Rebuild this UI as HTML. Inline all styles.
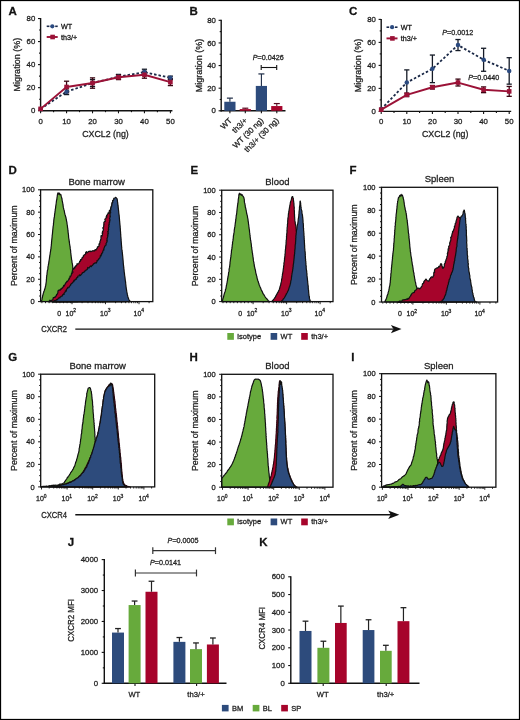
<!DOCTYPE html>
<html><head><meta charset="utf-8"><title>Figure</title>
<style>svg text{stroke:#1c1c1c;stroke-width:0.28px;paint-order:stroke}html,body{margin:0;padding:0;background:#fff;width:520px;height:720px;overflow:hidden;font-family:"Liberation Sans",sans-serif}svg{display:block;filter:blur(0.35px)}</style>
</head><body>
<svg width="520" height="720" viewBox="0 0 520 720" font-family='"Liberation Sans", sans-serif'><rect x="0" y="0" width="520" height="720" fill="#fff"/>
<text x="8.5" y="15.3" font-size="11.5" text-anchor="start" font-weight="bold" fill="#111">A</text>
<line x1="40.6" y1="18.04" x2="40.6" y2="111.3" stroke="#111" stroke-width="1.4"/>
<line x1="40" y1="110.7" x2="172.4" y2="110.7" stroke="#111" stroke-width="1.4"/>
<line x1="38" y1="110.7" x2="40.6" y2="110.7" stroke="#111" stroke-width="1.1"/>
<text x="35.3" y="113.3" font-size="7.8" text-anchor="end" fill="#222">0</text>
<line x1="39.1" y1="99.18" x2="40.6" y2="99.18" stroke="#111" stroke-width="1.1"/>
<line x1="38" y1="87.66" x2="40.6" y2="87.66" stroke="#111" stroke-width="1.1"/>
<text x="35.3" y="90.26" font-size="7.8" text-anchor="end" fill="#222">20</text>
<line x1="39.1" y1="76.14" x2="40.6" y2="76.14" stroke="#111" stroke-width="1.1"/>
<line x1="38" y1="64.62" x2="40.6" y2="64.62" stroke="#111" stroke-width="1.1"/>
<text x="35.3" y="67.22" font-size="7.8" text-anchor="end" fill="#222">40</text>
<line x1="39.1" y1="53.1" x2="40.6" y2="53.1" stroke="#111" stroke-width="1.1"/>
<line x1="38" y1="41.58" x2="40.6" y2="41.58" stroke="#111" stroke-width="1.1"/>
<text x="35.3" y="44.18" font-size="7.8" text-anchor="end" fill="#222">60</text>
<line x1="39.1" y1="30.06" x2="40.6" y2="30.06" stroke="#111" stroke-width="1.1"/>
<line x1="38" y1="18.54" x2="40.6" y2="18.54" stroke="#111" stroke-width="1.1"/>
<text x="35.3" y="21.14" font-size="7.8" text-anchor="end" fill="#222">80</text>
<line x1="40.6" y1="110.7" x2="40.6" y2="113.3" stroke="#111" stroke-width="1.1"/>
<text x="40.6" y="123.7" font-size="7.8" text-anchor="middle" fill="#222">0</text>
<line x1="53.58" y1="110.7" x2="53.58" y2="112.2" stroke="#111" stroke-width="1.1"/>
<line x1="66.56" y1="110.7" x2="66.56" y2="113.3" stroke="#111" stroke-width="1.1"/>
<text x="66.56" y="123.7" font-size="7.8" text-anchor="middle" fill="#222">10</text>
<line x1="79.54" y1="110.7" x2="79.54" y2="112.2" stroke="#111" stroke-width="1.1"/>
<line x1="92.52" y1="110.7" x2="92.52" y2="113.3" stroke="#111" stroke-width="1.1"/>
<text x="92.52" y="123.7" font-size="7.8" text-anchor="middle" fill="#222">20</text>
<line x1="105.5" y1="110.7" x2="105.5" y2="112.2" stroke="#111" stroke-width="1.1"/>
<line x1="118.48" y1="110.7" x2="118.48" y2="113.3" stroke="#111" stroke-width="1.1"/>
<text x="118.48" y="123.7" font-size="7.8" text-anchor="middle" fill="#222">30</text>
<line x1="131.46" y1="110.7" x2="131.46" y2="112.2" stroke="#111" stroke-width="1.1"/>
<line x1="144.44" y1="110.7" x2="144.44" y2="113.3" stroke="#111" stroke-width="1.1"/>
<text x="144.44" y="123.7" font-size="7.8" text-anchor="middle" fill="#222">40</text>
<line x1="157.42" y1="110.7" x2="157.42" y2="112.2" stroke="#111" stroke-width="1.1"/>
<line x1="170.4" y1="110.7" x2="170.4" y2="113.3" stroke="#111" stroke-width="1.1"/>
<text x="170.4" y="123.7" font-size="7.8" text-anchor="middle" fill="#222">50</text>
<text x="105.5" y="136.7" font-size="8.8" text-anchor="middle" fill="#222">CXCL2 (ng)</text>
<text x="20.1" y="64.62" font-size="9" text-anchor="middle" fill="#222" transform="rotate(-90 20.1 64.62)">Migration (%)</text>
<line x1="66.56" y1="88.81" x2="66.56" y2="94.57" stroke="#141a26" stroke-width="1.3"/>
<line x1="63.96" y1="88.81" x2="69.16" y2="88.81" stroke="#141a26" stroke-width="1.3"/>
<line x1="63.96" y1="94.57" x2="69.16" y2="94.57" stroke="#141a26" stroke-width="1.3"/>
<line x1="92.52" y1="79.6" x2="92.52" y2="86.51" stroke="#141a26" stroke-width="1.3"/>
<line x1="89.92" y1="79.6" x2="95.12" y2="79.6" stroke="#141a26" stroke-width="1.3"/>
<line x1="89.92" y1="86.51" x2="95.12" y2="86.51" stroke="#141a26" stroke-width="1.3"/>
<line x1="118.48" y1="74.41" x2="118.48" y2="79.02" stroke="#141a26" stroke-width="1.3"/>
<line x1="115.88" y1="74.41" x2="121.08" y2="74.41" stroke="#141a26" stroke-width="1.3"/>
<line x1="115.88" y1="79.02" x2="121.08" y2="79.02" stroke="#141a26" stroke-width="1.3"/>
<line x1="144.44" y1="69.23" x2="144.44" y2="74.99" stroke="#141a26" stroke-width="1.3"/>
<line x1="141.84" y1="69.23" x2="147.04" y2="69.23" stroke="#141a26" stroke-width="1.3"/>
<line x1="141.84" y1="74.99" x2="147.04" y2="74.99" stroke="#141a26" stroke-width="1.3"/>
<line x1="170.4" y1="76.14" x2="170.4" y2="79.6" stroke="#141a26" stroke-width="1.3"/>
<line x1="167.8" y1="76.14" x2="173" y2="76.14" stroke="#141a26" stroke-width="1.3"/>
<line x1="167.8" y1="79.6" x2="173" y2="79.6" stroke="#141a26" stroke-width="1.3"/>
<line x1="66.56" y1="81.21" x2="66.56" y2="92.73" stroke="#3a0512" stroke-width="1.3"/>
<line x1="63.96" y1="81.21" x2="69.16" y2="81.21" stroke="#3a0512" stroke-width="1.3"/>
<line x1="63.96" y1="92.73" x2="69.16" y2="92.73" stroke="#3a0512" stroke-width="1.3"/>
<line x1="92.52" y1="77.87" x2="92.52" y2="88.24" stroke="#3a0512" stroke-width="1.3"/>
<line x1="89.92" y1="77.87" x2="95.12" y2="77.87" stroke="#3a0512" stroke-width="1.3"/>
<line x1="89.92" y1="88.24" x2="95.12" y2="88.24" stroke="#3a0512" stroke-width="1.3"/>
<line x1="118.48" y1="74.99" x2="118.48" y2="79.6" stroke="#3a0512" stroke-width="1.3"/>
<line x1="115.88" y1="74.99" x2="121.08" y2="74.99" stroke="#3a0512" stroke-width="1.3"/>
<line x1="115.88" y1="79.6" x2="121.08" y2="79.6" stroke="#3a0512" stroke-width="1.3"/>
<line x1="144.44" y1="71.3" x2="144.44" y2="78.21" stroke="#3a0512" stroke-width="1.3"/>
<line x1="141.84" y1="71.3" x2="147.04" y2="71.3" stroke="#3a0512" stroke-width="1.3"/>
<line x1="141.84" y1="78.21" x2="147.04" y2="78.21" stroke="#3a0512" stroke-width="1.3"/>
<line x1="170.4" y1="78.67" x2="170.4" y2="85.59" stroke="#3a0512" stroke-width="1.3"/>
<line x1="167.8" y1="78.67" x2="173" y2="78.67" stroke="#3a0512" stroke-width="1.3"/>
<line x1="167.8" y1="85.59" x2="173" y2="85.59" stroke="#3a0512" stroke-width="1.3"/>
<path d="M40.6,108.97 L66.56,91.69 L92.52,83.05 L118.48,76.72 L144.44,72.11 L170.4,77.87" fill="none" stroke="#1b2947" stroke-width="1.8" stroke-linejoin="round" stroke-dasharray="2.5,2.0"/>
<circle cx="40.6" cy="108.97" r="2.25" fill="#2b4a80"/>
<circle cx="66.56" cy="91.69" r="2.25" fill="#2b4a80"/>
<circle cx="92.52" cy="83.05" r="2.25" fill="#2b4a80"/>
<circle cx="118.48" cy="76.72" r="2.25" fill="#2b4a80"/>
<circle cx="144.44" cy="72.11" r="2.25" fill="#2b4a80"/>
<circle cx="170.4" cy="77.87" r="2.25" fill="#2b4a80"/>
<path d="M40.6,108.86 L66.56,86.97 L92.52,83.05 L118.48,77.29 L144.44,74.76 L170.4,82.13" fill="none" stroke="#9b1237" stroke-width="1.9" stroke-linejoin="round"/>
<rect x="38.3" y="106.56" width="4.6" height="4.6" fill="#9b1237"/>
<rect x="64.26" y="84.67" width="4.6" height="4.6" fill="#9b1237"/>
<rect x="90.22" y="80.75" width="4.6" height="4.6" fill="#9b1237"/>
<rect x="116.18" y="74.99" width="4.6" height="4.6" fill="#9b1237"/>
<rect x="142.14" y="72.46" width="4.6" height="4.6" fill="#9b1237"/>
<rect x="168.1" y="79.83" width="4.6" height="4.6" fill="#9b1237"/>
<line x1="46.7" y1="26.3" x2="49.4" y2="26.3" stroke="#1b2947" stroke-width="1.6"/>
<line x1="55.2" y1="26.3" x2="57.7" y2="26.3" stroke="#1b2947" stroke-width="1.6"/>
<circle cx="52.3" cy="26.3" r="2.1" fill="#2b4a80"/>
<text x="61" y="28.8" font-size="7.2" text-anchor="start" fill="#111">WT</text>
<line x1="46.7" y1="37" x2="57.7" y2="37" stroke="#9b1237" stroke-width="1.9"/>
<rect x="50.3" y="34.7" width="4.6" height="4.6" fill="#9b1237"/>
<text x="61" y="39.5" font-size="7.2" text-anchor="start" fill="#111">th3/+</text>
<text x="349" y="15.3" font-size="11.5" text-anchor="start" font-weight="bold" fill="#111">C</text>
<line x1="381.2" y1="18.9" x2="381.2" y2="112" stroke="#111" stroke-width="1.4"/>
<line x1="380.6" y1="111.4" x2="511.2" y2="111.4" stroke="#111" stroke-width="1.4"/>
<line x1="378.6" y1="111.4" x2="381.2" y2="111.4" stroke="#111" stroke-width="1.1"/>
<text x="375.9" y="114" font-size="7.8" text-anchor="end" fill="#222">0</text>
<line x1="379.7" y1="99.9" x2="381.2" y2="99.9" stroke="#111" stroke-width="1.1"/>
<line x1="378.6" y1="88.4" x2="381.2" y2="88.4" stroke="#111" stroke-width="1.1"/>
<text x="375.9" y="91" font-size="7.8" text-anchor="end" fill="#222">20</text>
<line x1="379.7" y1="76.9" x2="381.2" y2="76.9" stroke="#111" stroke-width="1.1"/>
<line x1="378.6" y1="65.4" x2="381.2" y2="65.4" stroke="#111" stroke-width="1.1"/>
<text x="375.9" y="68" font-size="7.8" text-anchor="end" fill="#222">40</text>
<line x1="379.7" y1="53.9" x2="381.2" y2="53.9" stroke="#111" stroke-width="1.1"/>
<line x1="378.6" y1="42.4" x2="381.2" y2="42.4" stroke="#111" stroke-width="1.1"/>
<text x="375.9" y="45" font-size="7.8" text-anchor="end" fill="#222">60</text>
<line x1="379.7" y1="30.9" x2="381.2" y2="30.9" stroke="#111" stroke-width="1.1"/>
<line x1="378.6" y1="19.4" x2="381.2" y2="19.4" stroke="#111" stroke-width="1.1"/>
<text x="375.9" y="22" font-size="7.8" text-anchor="end" fill="#222">80</text>
<line x1="381.2" y1="111.4" x2="381.2" y2="114" stroke="#111" stroke-width="1.1"/>
<text x="381.2" y="124.4" font-size="7.8" text-anchor="middle" fill="#222">0</text>
<line x1="394" y1="111.4" x2="394" y2="112.9" stroke="#111" stroke-width="1.1"/>
<line x1="406.8" y1="111.4" x2="406.8" y2="114" stroke="#111" stroke-width="1.1"/>
<text x="406.8" y="124.4" font-size="7.8" text-anchor="middle" fill="#222">10</text>
<line x1="419.6" y1="111.4" x2="419.6" y2="112.9" stroke="#111" stroke-width="1.1"/>
<line x1="432.4" y1="111.4" x2="432.4" y2="114" stroke="#111" stroke-width="1.1"/>
<text x="432.4" y="124.4" font-size="7.8" text-anchor="middle" fill="#222">20</text>
<line x1="445.2" y1="111.4" x2="445.2" y2="112.9" stroke="#111" stroke-width="1.1"/>
<line x1="458" y1="111.4" x2="458" y2="114" stroke="#111" stroke-width="1.1"/>
<text x="458" y="124.4" font-size="7.8" text-anchor="middle" fill="#222">30</text>
<line x1="470.8" y1="111.4" x2="470.8" y2="112.9" stroke="#111" stroke-width="1.1"/>
<line x1="483.6" y1="111.4" x2="483.6" y2="114" stroke="#111" stroke-width="1.1"/>
<text x="483.6" y="124.4" font-size="7.8" text-anchor="middle" fill="#222">40</text>
<line x1="496.4" y1="111.4" x2="496.4" y2="112.9" stroke="#111" stroke-width="1.1"/>
<line x1="509.2" y1="111.4" x2="509.2" y2="114" stroke="#111" stroke-width="1.1"/>
<text x="509.2" y="124.4" font-size="7.8" text-anchor="middle" fill="#222">50</text>
<text x="445.2" y="137.4" font-size="8.8" text-anchor="middle" fill="#222">CXCL2 (ng)</text>
<text x="360.7" y="65.4" font-size="9" text-anchor="middle" fill="#222" transform="rotate(-90 360.7 65.4)">Migration (%)</text>
<line x1="406.8" y1="69.89" x2="406.8" y2="95.19" stroke="#141a26" stroke-width="1.3"/>
<line x1="404.2" y1="69.89" x2="409.4" y2="69.89" stroke="#141a26" stroke-width="1.3"/>
<line x1="404.2" y1="95.19" x2="409.4" y2="95.19" stroke="#141a26" stroke-width="1.3"/>
<line x1="432.4" y1="55.05" x2="432.4" y2="82.65" stroke="#141a26" stroke-width="1.3"/>
<line x1="429.8" y1="55.05" x2="435" y2="55.05" stroke="#141a26" stroke-width="1.3"/>
<line x1="429.8" y1="82.65" x2="435" y2="82.65" stroke="#141a26" stroke-width="1.3"/>
<line x1="458" y1="39.53" x2="458" y2="50.57" stroke="#141a26" stroke-width="1.3"/>
<line x1="455.4" y1="39.53" x2="460.6" y2="39.53" stroke="#141a26" stroke-width="1.3"/>
<line x1="455.4" y1="50.57" x2="460.6" y2="50.57" stroke="#141a26" stroke-width="1.3"/>
<line x1="483.6" y1="48.27" x2="483.6" y2="71.27" stroke="#141a26" stroke-width="1.3"/>
<line x1="481" y1="48.27" x2="486.2" y2="48.27" stroke="#141a26" stroke-width="1.3"/>
<line x1="481" y1="71.27" x2="486.2" y2="71.27" stroke="#141a26" stroke-width="1.3"/>
<line x1="509.2" y1="57.7" x2="509.2" y2="84.15" stroke="#141a26" stroke-width="1.3"/>
<line x1="506.6" y1="57.7" x2="511.8" y2="57.7" stroke="#141a26" stroke-width="1.3"/>
<line x1="506.6" y1="84.15" x2="511.8" y2="84.15" stroke="#141a26" stroke-width="1.3"/>
<line x1="406.8" y1="93.12" x2="406.8" y2="96.57" stroke="#3a0512" stroke-width="1.3"/>
<line x1="404.2" y1="93.12" x2="409.4" y2="93.12" stroke="#3a0512" stroke-width="1.3"/>
<line x1="404.2" y1="96.57" x2="409.4" y2="96.57" stroke="#3a0512" stroke-width="1.3"/>
<line x1="432.4" y1="85.53" x2="432.4" y2="88.98" stroke="#3a0512" stroke-width="1.3"/>
<line x1="429.8" y1="85.53" x2="435" y2="85.53" stroke="#3a0512" stroke-width="1.3"/>
<line x1="429.8" y1="88.98" x2="435" y2="88.98" stroke="#3a0512" stroke-width="1.3"/>
<line x1="458" y1="79.09" x2="458" y2="85.99" stroke="#3a0512" stroke-width="1.3"/>
<line x1="455.4" y1="79.09" x2="460.6" y2="79.09" stroke="#3a0512" stroke-width="1.3"/>
<line x1="455.4" y1="85.99" x2="460.6" y2="85.99" stroke="#3a0512" stroke-width="1.3"/>
<line x1="483.6" y1="86.91" x2="483.6" y2="92.66" stroke="#3a0512" stroke-width="1.3"/>
<line x1="481" y1="86.91" x2="486.2" y2="86.91" stroke="#3a0512" stroke-width="1.3"/>
<line x1="481" y1="92.66" x2="486.2" y2="92.66" stroke="#3a0512" stroke-width="1.3"/>
<line x1="509.2" y1="86.45" x2="509.2" y2="96.34" stroke="#3a0512" stroke-width="1.3"/>
<line x1="506.6" y1="86.45" x2="511.8" y2="86.45" stroke="#3a0512" stroke-width="1.3"/>
<line x1="506.6" y1="96.34" x2="511.8" y2="96.34" stroke="#3a0512" stroke-width="1.3"/>
<path d="M381.2,109.1 L406.8,82.54 L432.4,68.85 L458,45.05 L483.6,59.77 L509.2,70.92" fill="none" stroke="#1b2947" stroke-width="1.8" stroke-linejoin="round" stroke-dasharray="2.5,2.0"/>
<circle cx="381.2" cy="109.1" r="2.25" fill="#2b4a80"/>
<circle cx="406.8" cy="82.54" r="2.25" fill="#2b4a80"/>
<circle cx="432.4" cy="68.85" r="2.25" fill="#2b4a80"/>
<circle cx="458" cy="45.05" r="2.25" fill="#2b4a80"/>
<circle cx="483.6" cy="59.77" r="2.25" fill="#2b4a80"/>
<circle cx="509.2" cy="70.92" r="2.25" fill="#2b4a80"/>
<path d="M381.2,109.68 L406.8,94.84 L432.4,87.25 L458,82.54 L483.6,89.78 L509.2,91.39" fill="none" stroke="#9b1237" stroke-width="1.9" stroke-linejoin="round"/>
<rect x="378.9" y="107.38" width="4.6" height="4.6" fill="#9b1237"/>
<rect x="404.5" y="92.54" width="4.6" height="4.6" fill="#9b1237"/>
<rect x="430.1" y="84.95" width="4.6" height="4.6" fill="#9b1237"/>
<rect x="455.7" y="80.24" width="4.6" height="4.6" fill="#9b1237"/>
<rect x="481.3" y="87.48" width="4.6" height="4.6" fill="#9b1237"/>
<rect x="506.9" y="89.09" width="4.6" height="4.6" fill="#9b1237"/>
<line x1="386.5" y1="27.2" x2="389.2" y2="27.2" stroke="#1b2947" stroke-width="1.6"/>
<line x1="395" y1="27.2" x2="397.5" y2="27.2" stroke="#1b2947" stroke-width="1.6"/>
<circle cx="392.1" cy="27.2" r="2.1" fill="#2b4a80"/>
<text x="400.8" y="29.7" font-size="7.2" text-anchor="start" fill="#111">WT</text>
<line x1="386.5" y1="38.4" x2="397.5" y2="38.4" stroke="#9b1237" stroke-width="1.9"/>
<rect x="390.1" y="36.1" width="4.6" height="4.6" fill="#9b1237"/>
<text x="400.8" y="40.9" font-size="7.2" text-anchor="start" fill="#111">th3/+</text>
<text x="442.3" y="34.6" font-size="7.2" text-anchor="start" fill="#222"><tspan font-style="italic">P</tspan>=0.0012</text>
<text x="468.2" y="80.4" font-size="7.2" text-anchor="start" fill="#222"><tspan font-style="italic">P</tspan>=0.0440</text>
<text x="189.5" y="15.3" font-size="11.5" text-anchor="start" font-weight="bold" fill="#111">B</text>
<line x1="221.2" y1="19.82" x2="221.2" y2="111.4" stroke="#111" stroke-width="1.4"/>
<line x1="220.6" y1="110.8" x2="285.5" y2="110.8" stroke="#111" stroke-width="1.4"/>
<line x1="218.6" y1="110.8" x2="221.2" y2="110.8" stroke="#111" stroke-width="1.1"/>
<text x="215.9" y="113.4" font-size="7.8" text-anchor="end" fill="#222">0</text>
<line x1="219.7" y1="99.49" x2="221.2" y2="99.49" stroke="#111" stroke-width="1.1"/>
<line x1="218.6" y1="88.18" x2="221.2" y2="88.18" stroke="#111" stroke-width="1.1"/>
<text x="215.9" y="90.78" font-size="7.8" text-anchor="end" fill="#222">20</text>
<line x1="219.7" y1="76.87" x2="221.2" y2="76.87" stroke="#111" stroke-width="1.1"/>
<line x1="218.6" y1="65.56" x2="221.2" y2="65.56" stroke="#111" stroke-width="1.1"/>
<text x="215.9" y="68.16" font-size="7.8" text-anchor="end" fill="#222">40</text>
<line x1="219.7" y1="54.25" x2="221.2" y2="54.25" stroke="#111" stroke-width="1.1"/>
<line x1="218.6" y1="42.94" x2="221.2" y2="42.94" stroke="#111" stroke-width="1.1"/>
<text x="215.9" y="45.54" font-size="7.8" text-anchor="end" fill="#222">60</text>
<line x1="219.7" y1="31.63" x2="221.2" y2="31.63" stroke="#111" stroke-width="1.1"/>
<line x1="218.6" y1="20.32" x2="221.2" y2="20.32" stroke="#111" stroke-width="1.1"/>
<text x="215.9" y="22.92" font-size="7.8" text-anchor="end" fill="#222">80</text>
<text x="201.7" y="65.56" font-size="9" text-anchor="middle" fill="#222" transform="rotate(-90 201.7 65.56)">Migration (%)</text>
<rect x="224.3" y="101.75" width="11.2" height="9.05" fill="#2d4b7c"/>
<line x1="229.9" y1="98.13" x2="229.9" y2="101.75" stroke="#1c2a44" stroke-width="1.1"/>
<line x1="226.9" y1="98.13" x2="232.9" y2="98.13" stroke="#1c2a44" stroke-width="1.2"/>
<line x1="229.9" y1="110.8" x2="229.9" y2="113.3" stroke="#111" stroke-width="1.1"/>
<rect x="239.7" y="109.1" width="11.2" height="1.7" fill="#a6042b"/>
<line x1="245.3" y1="108.2" x2="245.3" y2="109.1" stroke="#5a0a20" stroke-width="1.1"/>
<line x1="242.3" y1="108.2" x2="248.3" y2="108.2" stroke="#5a0a20" stroke-width="1.2"/>
<line x1="245.3" y1="110.8" x2="245.3" y2="113.3" stroke="#111" stroke-width="1.1"/>
<rect x="255.8" y="85.92" width="11.2" height="24.88" fill="#2d4b7c"/>
<line x1="261.4" y1="73.93" x2="261.4" y2="85.92" stroke="#1c2a44" stroke-width="1.1"/>
<line x1="258.4" y1="73.93" x2="264.4" y2="73.93" stroke="#1c2a44" stroke-width="1.2"/>
<line x1="261.4" y1="110.8" x2="261.4" y2="113.3" stroke="#111" stroke-width="1.1"/>
<rect x="271.2" y="106.05" width="11.2" height="4.75" fill="#a6042b"/>
<line x1="276.8" y1="103.56" x2="276.8" y2="106.05" stroke="#5a0a20" stroke-width="1.1"/>
<line x1="273.8" y1="103.56" x2="279.8" y2="103.56" stroke="#5a0a20" stroke-width="1.2"/>
<line x1="276.8" y1="110.8" x2="276.8" y2="113.3" stroke="#111" stroke-width="1.1"/>
<text x="232.4" y="121" font-size="7.9" text-anchor="end" fill="#222" transform="rotate(-45 232.4 121)">WT</text>
<text x="247.8" y="121" font-size="7.9" text-anchor="end" fill="#222" transform="rotate(-45 247.8 121)">th3/+</text>
<text x="263.9" y="121" font-size="7.9" text-anchor="end" fill="#222" transform="rotate(-45 263.9 121)">WT (30 ng)</text>
<text x="279.3" y="121" font-size="7.9" text-anchor="end" fill="#222" transform="rotate(-45 279.3 121)">th3/+ (30 ng)</text>
<line x1="261.2" y1="67.5" x2="276.7" y2="67.5" stroke="#111" stroke-width="1.1"/>
<line x1="261.2" y1="65" x2="261.2" y2="70" stroke="#111" stroke-width="1.1"/>
<line x1="276.7" y1="65" x2="276.7" y2="70" stroke="#111" stroke-width="1.1"/>
<text x="252.8" y="60" font-size="7.2" text-anchor="start" fill="#222"><tspan font-style="italic">P</tspan>=0.0426</text>
<text x="8.5" y="174.3" font-size="11.5" text-anchor="start" font-weight="bold" fill="#111">D</text>
<line x1="38" y1="301.6" x2="40.6" y2="301.6" stroke="#111" stroke-width="1"/>
<text x="34.6" y="304.2" font-size="7.5" text-anchor="end" fill="#222">0</text>
<line x1="39.1" y1="296.01" x2="40.6" y2="296.01" stroke="#111" stroke-width="1"/>
<line x1="39.1" y1="290.42" x2="40.6" y2="290.42" stroke="#111" stroke-width="1"/>
<line x1="39.1" y1="284.83" x2="40.6" y2="284.83" stroke="#111" stroke-width="1"/>
<line x1="38" y1="279.24" x2="40.6" y2="279.24" stroke="#111" stroke-width="1"/>
<text x="34.6" y="281.84" font-size="7.5" text-anchor="end" fill="#222">20</text>
<line x1="39.1" y1="273.65" x2="40.6" y2="273.65" stroke="#111" stroke-width="1"/>
<line x1="39.1" y1="268.06" x2="40.6" y2="268.06" stroke="#111" stroke-width="1"/>
<line x1="39.1" y1="262.47" x2="40.6" y2="262.47" stroke="#111" stroke-width="1"/>
<line x1="38" y1="256.88" x2="40.6" y2="256.88" stroke="#111" stroke-width="1"/>
<text x="34.6" y="259.48" font-size="7.5" text-anchor="end" fill="#222">40</text>
<line x1="39.1" y1="251.29" x2="40.6" y2="251.29" stroke="#111" stroke-width="1"/>
<line x1="39.1" y1="245.7" x2="40.6" y2="245.7" stroke="#111" stroke-width="1"/>
<line x1="39.1" y1="240.11" x2="40.6" y2="240.11" stroke="#111" stroke-width="1"/>
<line x1="38" y1="234.52" x2="40.6" y2="234.52" stroke="#111" stroke-width="1"/>
<text x="34.6" y="237.12" font-size="7.5" text-anchor="end" fill="#222">60</text>
<line x1="39.1" y1="228.93" x2="40.6" y2="228.93" stroke="#111" stroke-width="1"/>
<line x1="39.1" y1="223.34" x2="40.6" y2="223.34" stroke="#111" stroke-width="1"/>
<line x1="39.1" y1="217.75" x2="40.6" y2="217.75" stroke="#111" stroke-width="1"/>
<line x1="38" y1="212.16" x2="40.6" y2="212.16" stroke="#111" stroke-width="1"/>
<text x="34.6" y="214.76" font-size="7.5" text-anchor="end" fill="#222">80</text>
<line x1="39.1" y1="206.57" x2="40.6" y2="206.57" stroke="#111" stroke-width="1"/>
<line x1="39.1" y1="200.98" x2="40.6" y2="200.98" stroke="#111" stroke-width="1"/>
<line x1="39.1" y1="195.39" x2="40.6" y2="195.39" stroke="#111" stroke-width="1"/>
<line x1="38" y1="189.8" x2="40.6" y2="189.8" stroke="#111" stroke-width="1"/>
<text x="34.6" y="192.4" font-size="7.5" text-anchor="end" fill="#222">100</text>
<text x="16.8" y="245.7" font-size="8.8" text-anchor="middle" fill="#222" transform="rotate(-90 16.8 245.7)">Percent of maximum</text>
<text x="96.7" y="184.6" font-size="9.5" text-anchor="middle" fill="#222">Bone marrow</text>
<line x1="41.9" y1="301.6" x2="41.9" y2="303.2" stroke="#111" stroke-width="0.9"/>
<line x1="45.5" y1="301.6" x2="45.5" y2="303.2" stroke="#111" stroke-width="0.9"/>
<line x1="49.1" y1="301.6" x2="49.1" y2="303.2" stroke="#111" stroke-width="0.9"/>
<line x1="52.7" y1="301.6" x2="52.7" y2="303.2" stroke="#111" stroke-width="0.9"/>
<line x1="56.3" y1="301.6" x2="56.3" y2="303.2" stroke="#111" stroke-width="0.9"/>
<line x1="59.9" y1="301.6" x2="59.9" y2="303.2" stroke="#111" stroke-width="0.9"/>
<line x1="63.5" y1="301.6" x2="63.5" y2="303.2" stroke="#111" stroke-width="0.9"/>
<line x1="67.1" y1="301.6" x2="67.1" y2="303.2" stroke="#111" stroke-width="0.9"/>
<line x1="70.7" y1="301.6" x2="70.7" y2="303.2" stroke="#111" stroke-width="0.9"/>
<line x1="72" y1="301.6" x2="72" y2="304.2" stroke="#111" stroke-width="0.9"/>
<line x1="82.08" y1="301.6" x2="82.08" y2="303.2" stroke="#111" stroke-width="0.9"/>
<line x1="87.98" y1="301.6" x2="87.98" y2="303.2" stroke="#111" stroke-width="0.9"/>
<line x1="92.17" y1="301.6" x2="92.17" y2="303.2" stroke="#111" stroke-width="0.9"/>
<line x1="95.42" y1="301.6" x2="95.42" y2="303.2" stroke="#111" stroke-width="0.9"/>
<line x1="98.07" y1="301.6" x2="98.07" y2="303.2" stroke="#111" stroke-width="0.9"/>
<line x1="100.31" y1="301.6" x2="100.31" y2="303.2" stroke="#111" stroke-width="0.9"/>
<line x1="102.25" y1="301.6" x2="102.25" y2="303.2" stroke="#111" stroke-width="0.9"/>
<line x1="103.97" y1="301.6" x2="103.97" y2="303.2" stroke="#111" stroke-width="0.9"/>
<line x1="105.5" y1="301.6" x2="105.5" y2="304.2" stroke="#111" stroke-width="0.9"/>
<line x1="115.58" y1="301.6" x2="115.58" y2="303.2" stroke="#111" stroke-width="0.9"/>
<line x1="121.48" y1="301.6" x2="121.48" y2="303.2" stroke="#111" stroke-width="0.9"/>
<line x1="125.67" y1="301.6" x2="125.67" y2="303.2" stroke="#111" stroke-width="0.9"/>
<line x1="128.92" y1="301.6" x2="128.92" y2="303.2" stroke="#111" stroke-width="0.9"/>
<line x1="131.57" y1="301.6" x2="131.57" y2="303.2" stroke="#111" stroke-width="0.9"/>
<line x1="133.81" y1="301.6" x2="133.81" y2="303.2" stroke="#111" stroke-width="0.9"/>
<line x1="135.75" y1="301.6" x2="135.75" y2="303.2" stroke="#111" stroke-width="0.9"/>
<line x1="137.47" y1="301.6" x2="137.47" y2="303.2" stroke="#111" stroke-width="0.9"/>
<line x1="139" y1="301.6" x2="139" y2="304.2" stroke="#111" stroke-width="0.9"/>
<line x1="149.08" y1="301.6" x2="149.08" y2="303.2" stroke="#111" stroke-width="0.9"/>
<text x="59.1" y="315.6" font-size="7" text-anchor="middle" fill="#222">0</text>
<text x="69.5" y="315.6" font-size="7" text-anchor="middle" fill="#222">10</text>
<text x="74.7" y="312.4" font-size="5" text-anchor="middle" fill="#222">2</text>
<text x="103.9" y="315.6" font-size="7" text-anchor="middle" fill="#222">10</text>
<text x="109.1" y="312.4" font-size="5" text-anchor="middle" fill="#222">3</text>
<text x="137.4" y="315.6" font-size="7" text-anchor="middle" fill="#222">10</text>
<text x="142.6" y="312.4" font-size="5" text-anchor="middle" fill="#222">4</text>
<path d="M41.51,301.52 L41.63,301.04 L41.67,300.41 L41.98,299.39 L42.06,298.54 L42.3,297.8 L42.51,296.79 L42.65,295.84 L42.97,295.04 L43.19,294.08 L43.32,293.27 L43.67,292.48 L43.82,291.55 L44.15,290.92 L44.47,290.07 L44.72,289.29 L44.94,288.5 L45.2,287.82 L45.29,287.18 L45.53,286.04 L45.79,285.14 L45.86,284.42 L45.96,283.71 L46.08,282.95 L46.21,282.26 L46.29,281.5 L46.38,280.74 L46.3,279.84 L46.52,279.04 L46.53,278.19 L46.55,277.26 L46.71,276.42 L46.71,275.39 L46.99,274.71 L47.06,273.69 L47.05,273.01 L47.28,272.19 L47.27,271.58 L47.39,270.72 L47.57,269.96 L47.81,269.2 L47.95,268.27 L47.92,267.39 L48.04,266.63 L48.25,265.64 L48.35,264.88 L48.62,263.8 L48.78,262.94 L48.8,262.36 L48.95,261.43 L49.09,260.66 L49.23,259.78 L49.35,259.02 L49.52,257.97 L49.59,257.01 L49.77,256.33 L49.82,255.29 L50.07,254.35 L50.21,253.34 L50.25,252.65 L50.45,251.79 L50.55,250.98 L50.74,250.2 L50.73,249.23 L50.99,248.72 L50.99,247.93 L51.1,246.99 L51.21,246.06 L51.34,245.34 L51.36,244.69 L51.35,244.23 L51.52,243.56 L51.48,242.81 L51.55,242.18 L51.67,241.06 L51.73,240.06 L51.83,239.32 L51.92,238.8 L51.94,238.09 L52.11,237.18 L52.15,236.56 L52.17,235.55 L52.27,234.8 L52.47,234.02 L52.46,232.96 L52.61,232.25 L52.65,231.35 L52.73,230.24 L52.82,229.53 L52.94,228.49 L53.03,227.62 L53.08,226.88 L53.32,225.73 L53.42,225.13 L53.5,224.17 L53.46,223.51 L53.66,222.67 L53.71,221.76 L53.78,220.77 L53.84,219.87 L53.98,219.11 L54.05,218.31 L54.28,217.48 L54.42,216.63 L54.47,215.79 L54.61,214.69 L54.64,213.92 L54.79,213.26 L54.97,212.4 L54.97,211.68 L55.17,210.81 L55.26,210.13 L55.25,209.36 L55.46,208.7 L55.55,207.9 L55.7,207.11 L55.69,206.09 L55.99,205.07 L56.02,203.97 L56.2,203.13 L56.33,202.31 L56.37,201.59 L56.51,200.58 L56.62,199.86 L56.87,199.41 L56.91,198.48 L56.97,197.94 L57.21,196.72 L57.28,195.85 L57.38,195.01 L57.51,194.41 L57.58,194.06 L58.04,192.77 L58.72,194.26 L59.28,193.08 L59.62,193.94 L59.88,194.78 L60.64,194.3 L60.98,195.1 L61.25,196.39 L61.57,197.36 L61.76,198.27 L62.07,199.48 L62.11,200.37 L62.3,201.06 L62.38,201.73 L62.66,202.89 L62.78,203.65 L62.87,204.34 L62.98,205.03 L63.13,205.58 L63.2,206.35 L63.35,207.41 L63.54,208.07 L63.74,209.21 L64.05,209.89 L64.26,210.89 L64.42,211.76 L64.55,212.55 L64.63,213.23 L64.91,213.96 L65.04,214.7 L65.39,215.49 L65.49,216.08 L65.79,217.05 L65.88,217.8 L66.16,218.68 L66.32,219.74 L66.52,220.57 L66.71,221.54 L66.9,222.47 L67,223.46 L67.07,224.14 L67.29,224.92 L67.35,225.74 L67.49,226.54 L67.51,227.54 L67.72,228.2 L67.79,229.35 L67.93,230.13 L67.95,230.97 L68.11,231.89 L68.15,232.84 L68.37,233.85 L68.43,234.62 L68.55,235.52 L68.53,236.41 L68.58,237.1 L68.73,237.95 L68.81,238.59 L68.97,239.31 L69.09,239.89 L69.17,241.17 L69.36,242.17 L69.44,243.15 L69.59,243.81 L69.64,244.61 L69.85,245.23 L69.83,245.79 L70.02,246.39 L70.17,247.24 L70.15,248.11 L70.26,248.7 L70.44,249.5 L70.57,250.52 L70.66,251.17 L70.67,252.02 L70.7,252.99 L70.93,253.66 L70.95,254.59 L71.11,255.55 L71.16,256.26 L71.3,257.28 L71.42,257.97 L71.5,258.96 L71.57,259.6 L71.79,260.29 L71.95,261.02 L71.94,262.04 L72.12,262.84 L72.31,263.59 L72.42,264.26 L72.56,265.19 L72.66,265.91 L72.74,266.97 L72.73,267.71 L72.84,268.46 L72.96,269.29 L72.92,270.02 L73.05,270.82 L73.13,271.46 L73.03,272.4 L73.07,273.29 L73.21,273.92 L73.21,274.82 L73.23,275.67 L73.22,276.42 L73.36,277.21 L73.38,278.29 L73.41,279.17 L73.48,279.93 L73.48,280.89 L73.58,281.6 L73.66,282.52 L73.73,283.26 L73.87,284.22 L73.95,285.07 L73.91,285.91 L73.96,286.82 L74.15,287.94 L74.13,288.67 L74.31,289.63 L74.4,290.62 L74.39,291.39 L74.5,292.15 L74.67,292.96 L74.72,293.6 L74.79,294.46 L75.07,295.09 L75.26,296.27 L75.64,297.17 L76.09,298.11 L76.36,298.93 L76.79,299.69 L77.21,300.23 L77.55,300.59 L77.79,301.25 L78,301.6 Z" fill="#67aa3c" stroke="#111" stroke-width="1.2" stroke-linejoin="round"/>
<path d="M48.96,301.64 L49.43,300.78 L49.92,300.17 L50.5,300.87 L51.75,300.28 L51.59,300.37 L52.84,299.66 L53.24,297.77 L53.54,297.52 L54.95,297.52 L55.36,296.51 L55.02,296.52 L55.96,296.12 L56.52,295.55 L56.53,294.53 L57.57,294 L57.44,293.49 L57.88,292.76 L57.96,290.91 L58.65,290.27 L59.47,289.9 L60,290.38 L60.62,289.39 L60.96,288.65 L61.37,289.01 L62.39,287.56 L62.3,288.12 L62.98,287.07 L63.17,287 L63.7,285.37 L64.21,286.11 L64.67,285.04 L65.06,284.06 L65.5,283.84 L65.89,282.56 L66.77,282.19 L66.73,281.34 L67.61,281.38 L67.67,281.17 L68.48,279.96 L69.51,278.61 L68.96,278.29 L69.41,278.08 L69.96,277.63 L70,275.99 L70.58,276.33 L71.12,275.68 L71.25,275.19 L71.52,273.24 L72.19,273.56 L71.88,272.06 L73.08,272.06 L72.26,271.37 L72.73,269.42 L72.88,268.99 L73.72,268.22 L73.47,269.19 L74.18,268.65 L75.02,267.86 L74.5,267.59 L75.6,265.92 L75.55,266.54 L76.91,264.82 L76.95,263.94 L77.79,263.77 L77.75,264.27 L78.83,263.36 L79.11,262.96 L79.38,262.54 L79.71,261.04 L80.45,261.1 L80.59,259.57 L81.54,259.75 L81.78,259.08 L81.96,258.05 L82.25,257.77 L83.48,256.6 L83.2,256.25 L84.44,254.73 L84.91,254.77 L84.88,254.56 L85.62,254.05 L85.66,252.6 L86.46,251.62 L86.9,252.97 L87.66,252.19 L89,251.26 L89.11,251.43 L90.55,251.1 L90.68,251.72 L92.52,250.91 L92.86,250.71 L93.8,250.86 L94.58,250.96 L94.6,250.63 L95.14,249.63 L95.88,250.09 L97.16,248.17 L97.46,247.92 L97.39,247.07 L98.19,246.62 L98.38,246.59 L99.02,246.1 L99.09,244.61 L98.89,244.07 L99.7,244.1 L99.55,243.37 L100.06,242.22 L99.83,241.92 L100.43,240.6 L100.66,239.45 L100.67,239.96 L101.03,239.07 L100.94,237.49 L101.07,238.26 L100.95,236.57 L101.19,235.49 L101.95,236.05 L102.38,235.21 L102.48,233.98 L102.09,233.08 L102.77,233.06 L102.47,232.3 L102.54,231.23 L103.25,230.9 L103.42,228.89 L102.67,227.94 L103.03,228.15 L103.56,227.02 L103.82,225.4 L103.63,225.06 L104.12,224.45 L103.79,224.45 L103.96,222.59 L103.88,222.47 L104.78,221.38 L105.25,221.54 L105.38,221.27 L104.84,219.44 L105.42,218.63 L105.75,218.35 L106.35,217.42 L106.19,216.69 L106.83,217.2 L106.6,215.44 L106.76,215.76 L107.74,213.99 L107.76,214.19 L108.2,212.78 L108.86,213.49 L109.56,213.25 L109.07,212.64 L109.36,210.59 L110.02,210.38 L110.54,208.98 L110.6,208.27 L111.36,207.87 L111,207.42 L111.41,205.94 L111.9,206.17 L112.27,205.86 L111.77,203.88 L112.69,204.09 L112.96,203.02 L112.81,202.09 L112.97,200.59 L114.34,200.8 L114.26,200.73 L115.47,199.61 L115.5,199 L117,200 L121,250 L126,301.6 Z" fill="#a6042b" stroke="#111" stroke-width="1.2" stroke-linejoin="round"/>
<path d="M53.09,302.04 L53.65,301.27 L54.27,300.61 L55.91,300.86 L55.97,300.31 L56.57,299.61 L57.15,299.78 L57.53,299.49 L58.52,298.04 L59.34,297.77 L60,297.92 L59.87,297.18 L60.94,296.66 L61.35,296.04 L62.48,295.84 L62.84,294.44 L63.23,294.24 L64.09,294.34 L63.92,293.33 L64.36,293.05 L65.35,291.62 L65.34,290.87 L66.37,291.13 L66.38,289.66 L66.61,289.06 L67.78,288.49 L67.61,287.72 L67.97,287.33 L69.04,287.19 L69.51,286.97 L69.41,286.44 L70.66,285.15 L70.54,284.28 L71.02,284.28 L71.33,283.76 L72.6,282.73 L73.06,282 L73.63,281.46 L73.84,281.59 L73.83,280.3 L74.46,280.59 L75.54,279.22 L75.42,279.62 L76.36,279.2 L76.54,277.86 L77.81,277.35 L77.62,276.68 L78.15,275.99 L79.35,275.79 L79.35,274.88 L80.64,275.57 L80.63,275.14 L81.83,273.78 L82.24,273.49 L82.26,272.79 L83.45,272.36 L83.86,272.49 L84.42,271.5 L84.95,270.93 L85.18,270.94 L86.31,270.06 L86.2,269.88 L87.34,269.5 L87.5,267.84 L87.89,267.46 L88.8,268.13 L89.21,267.56 L90.51,265.94 L91.3,266.61 L91.59,266.03 L91.9,265.7 L92.84,264.93 L93.58,263.9 L94.09,263.67 L94.5,263.25 L95.3,262.74 L96.12,263.11 L96.57,262.42 L97.21,261.08 L97,260.49 L98.01,260.22 L98.42,259.38 L99.08,258.75 L99.05,258.42 L99.75,257.93 L99.83,257.95 L100.26,256.56 L100.44,255.4 L101.07,255.84 L101.47,254.1 L101.89,253.93 L101.56,253.3 L102.42,252.97 L102.76,252.12 L102.66,251.85 L103.1,250.64 L103.28,250.14 L104,249.87 L103.67,249.14 L104.13,247.98 L104.22,247.86 L104.65,246.41 L104.66,246.05 L105.67,245.77 L105.78,245.12 L106.13,244.88 L106.05,244.33 L106.03,243.32 L106.48,242.89 L107.14,241.58 L106.75,240.53 L107.28,240.45 L106.92,238.8 L107.01,238.52 L107.25,238.52 L107.51,237.05 L107.62,236.67 L107.88,236.1 L107.47,235.1 L108.04,235.11 L107.89,233.11 L108.41,233.3 L107.66,231.59 L108.07,231.43 L108.49,231.27 L108.23,229.76 L108.71,229.4 L108.4,228.15 L108.7,227.28 L109.05,226.48 L108.85,226.46 L108.67,225.13 L109.3,224.96 L108.92,224.34 L109.35,224.25 L109.06,222.9 L109.75,221.86 L109.54,220.91 L109.49,220.88 L110.04,220.38 L109.99,219.79 L109.5,218.15 L109.78,217.75 L110.32,216.7 L110.35,216.01 L109.83,216.3 L110.13,215.55 L110.02,213.85 L110.35,212.89 L110.72,212.66 L110.14,212.58 L110.51,211.26 L110.49,210.25 L110.96,209.67 L110.6,209.01 L111.01,208.05 L111,207.72 L111.13,207.09 L111.62,206.23 L111.9,204.73 L111.89,204.24 L112.13,203.76 L111.82,202.81 L112.66,202.61 L112.58,201.56 L112.99,200.68 L112.57,200.76 L113.62,199.79 L114,198.48 L113.67,198.31 L114.16,198.3 L115.21,197.82 L115.8,197.3 L117,198.57 L117.14,199 L117.2,199.57 L117.34,200.27 L117.36,200.93 L117.53,201.84 L117.68,202.6 L117.75,203.6 L117.9,204.54 L117.94,205.43 L118.1,206.23 L118.17,207.32 L118.3,208.2 L118.42,209.07 L118.49,210.01 L118.6,210.71 L118.71,211.51 L118.75,212.23 L118.84,212.96 L118.89,213.77 L119.01,214.4 L119.1,215.18 L119.13,215.94 L119.31,216.81 L119.35,217.71 L119.38,218.49 L119.5,219.39 L119.56,220.51 L119.7,221.56 L119.77,222.59 L119.82,223.34 L119.91,223.94 L119.93,224.58 L120.06,225.49 L120.14,226.22 L120.17,226.9 L120.18,227.85 L120.33,228.64 L120.37,229.47 L120.42,230.32 L120.47,231.23 L120.58,232.14 L120.6,233.11 L120.65,234 L120.7,234.92 L120.8,235.76 L120.8,236.62 L120.94,237.45 L121.01,238.32 L121.1,239.22 L121.14,240.11 L121.11,240.82 L121.26,241.63 L121.25,242.45 L121.4,243.01 L121.39,243.81 L121.41,244.45 L121.52,245.01 L121.57,246.28 L121.73,247.28 L121.77,248.38 L121.86,249.04 L121.98,249.95 L122.14,250.58 L122.14,251.27 L122.19,251.94 L122.36,252.54 L122.36,253.24 L122.49,254.1 L122.55,255.09 L122.66,255.79 L122.74,256.54 L122.79,257.27 L122.88,257.96 L122.93,258.87 L123.01,259.56 L123.07,260.35 L123.17,261.26 L123.21,262.1 L123.25,262.82 L123.35,263.73 L123.43,264.62 L123.55,265.51 L123.65,266.34 L123.7,267.16 L123.75,267.96 L123.89,268.86 L124.03,269.55 L124.09,270.49 L124.13,271.32 L124.24,272.3 L124.44,273.04 L124.49,273.87 L124.57,274.81 L124.69,275.77 L124.81,276.44 L124.94,277.29 L125.07,278.29 L125.14,278.94 L125.22,279.78 L125.3,280.54 L125.43,281.23 L125.56,281.92 L125.68,282.93 L125.7,283.92 L125.86,284.95 L125.97,285.82 L126.02,286.62 L126.18,287.43 L126.22,288.25 L126.4,288.81 L126.47,289.7 L126.6,290.36 L126.7,290.98 L126.82,292.05 L127.08,292.96 L127.23,293.85 L127.4,294.69 L127.63,295.56 L127.79,296.38 L127.98,296.94 L128.27,297.86 L128.64,298.84 L128.92,299.55 L129.25,300.19 L129.57,300.8 L130.41,301.51 L131,301.6 Z" fill="#2d4b7c" stroke="#111" stroke-width="1.2" stroke-linejoin="round"/>
<rect x="40.6" y="189.8" width="112.2" height="111.8" fill="none" stroke="#111" stroke-width="1.3"/>
<text x="190.5" y="174.3" font-size="11.5" text-anchor="start" font-weight="bold" fill="#111">E</text>
<line x1="219.1" y1="301.6" x2="221.7" y2="301.6" stroke="#111" stroke-width="1"/>
<text x="215.7" y="304.2" font-size="7.5" text-anchor="end" fill="#222">0</text>
<line x1="220.2" y1="296.03" x2="221.7" y2="296.03" stroke="#111" stroke-width="1"/>
<line x1="220.2" y1="290.46" x2="221.7" y2="290.46" stroke="#111" stroke-width="1"/>
<line x1="220.2" y1="284.89" x2="221.7" y2="284.89" stroke="#111" stroke-width="1"/>
<line x1="219.1" y1="279.32" x2="221.7" y2="279.32" stroke="#111" stroke-width="1"/>
<text x="215.7" y="281.92" font-size="7.5" text-anchor="end" fill="#222">20</text>
<line x1="220.2" y1="273.75" x2="221.7" y2="273.75" stroke="#111" stroke-width="1"/>
<line x1="220.2" y1="268.18" x2="221.7" y2="268.18" stroke="#111" stroke-width="1"/>
<line x1="220.2" y1="262.61" x2="221.7" y2="262.61" stroke="#111" stroke-width="1"/>
<line x1="219.1" y1="257.04" x2="221.7" y2="257.04" stroke="#111" stroke-width="1"/>
<text x="215.7" y="259.64" font-size="7.5" text-anchor="end" fill="#222">40</text>
<line x1="220.2" y1="251.47" x2="221.7" y2="251.47" stroke="#111" stroke-width="1"/>
<line x1="220.2" y1="245.9" x2="221.7" y2="245.9" stroke="#111" stroke-width="1"/>
<line x1="220.2" y1="240.33" x2="221.7" y2="240.33" stroke="#111" stroke-width="1"/>
<line x1="219.1" y1="234.76" x2="221.7" y2="234.76" stroke="#111" stroke-width="1"/>
<text x="215.7" y="237.36" font-size="7.5" text-anchor="end" fill="#222">60</text>
<line x1="220.2" y1="229.19" x2="221.7" y2="229.19" stroke="#111" stroke-width="1"/>
<line x1="220.2" y1="223.62" x2="221.7" y2="223.62" stroke="#111" stroke-width="1"/>
<line x1="220.2" y1="218.05" x2="221.7" y2="218.05" stroke="#111" stroke-width="1"/>
<line x1="219.1" y1="212.48" x2="221.7" y2="212.48" stroke="#111" stroke-width="1"/>
<text x="215.7" y="215.08" font-size="7.5" text-anchor="end" fill="#222">80</text>
<line x1="220.2" y1="206.91" x2="221.7" y2="206.91" stroke="#111" stroke-width="1"/>
<line x1="220.2" y1="201.34" x2="221.7" y2="201.34" stroke="#111" stroke-width="1"/>
<line x1="220.2" y1="195.77" x2="221.7" y2="195.77" stroke="#111" stroke-width="1"/>
<line x1="219.1" y1="190.2" x2="221.7" y2="190.2" stroke="#111" stroke-width="1"/>
<text x="215.7" y="192.8" font-size="7.5" text-anchor="end" fill="#222">100</text>
<text x="197.8" y="245.9" font-size="8.8" text-anchor="middle" fill="#222" transform="rotate(-90 197.8 245.9)">Percent of maximum</text>
<text x="277.35" y="185" font-size="9.5" text-anchor="middle" fill="#222">Blood</text>
<line x1="223" y1="301.6" x2="223" y2="303.2" stroke="#111" stroke-width="0.9"/>
<line x1="226.6" y1="301.6" x2="226.6" y2="303.2" stroke="#111" stroke-width="0.9"/>
<line x1="230.2" y1="301.6" x2="230.2" y2="303.2" stroke="#111" stroke-width="0.9"/>
<line x1="233.8" y1="301.6" x2="233.8" y2="303.2" stroke="#111" stroke-width="0.9"/>
<line x1="237.4" y1="301.6" x2="237.4" y2="303.2" stroke="#111" stroke-width="0.9"/>
<line x1="241" y1="301.6" x2="241" y2="303.2" stroke="#111" stroke-width="0.9"/>
<line x1="244.6" y1="301.6" x2="244.6" y2="303.2" stroke="#111" stroke-width="0.9"/>
<line x1="248.2" y1="301.6" x2="248.2" y2="303.2" stroke="#111" stroke-width="0.9"/>
<line x1="251.8" y1="301.6" x2="251.8" y2="303.2" stroke="#111" stroke-width="0.9"/>
<line x1="253.1" y1="301.6" x2="253.1" y2="304.2" stroke="#111" stroke-width="0.9"/>
<line x1="263.18" y1="301.6" x2="263.18" y2="303.2" stroke="#111" stroke-width="0.9"/>
<line x1="269.08" y1="301.6" x2="269.08" y2="303.2" stroke="#111" stroke-width="0.9"/>
<line x1="273.27" y1="301.6" x2="273.27" y2="303.2" stroke="#111" stroke-width="0.9"/>
<line x1="276.52" y1="301.6" x2="276.52" y2="303.2" stroke="#111" stroke-width="0.9"/>
<line x1="279.17" y1="301.6" x2="279.17" y2="303.2" stroke="#111" stroke-width="0.9"/>
<line x1="281.41" y1="301.6" x2="281.41" y2="303.2" stroke="#111" stroke-width="0.9"/>
<line x1="283.35" y1="301.6" x2="283.35" y2="303.2" stroke="#111" stroke-width="0.9"/>
<line x1="285.07" y1="301.6" x2="285.07" y2="303.2" stroke="#111" stroke-width="0.9"/>
<line x1="286.6" y1="301.6" x2="286.6" y2="304.2" stroke="#111" stroke-width="0.9"/>
<line x1="296.68" y1="301.6" x2="296.68" y2="303.2" stroke="#111" stroke-width="0.9"/>
<line x1="302.58" y1="301.6" x2="302.58" y2="303.2" stroke="#111" stroke-width="0.9"/>
<line x1="306.77" y1="301.6" x2="306.77" y2="303.2" stroke="#111" stroke-width="0.9"/>
<line x1="310.02" y1="301.6" x2="310.02" y2="303.2" stroke="#111" stroke-width="0.9"/>
<line x1="312.67" y1="301.6" x2="312.67" y2="303.2" stroke="#111" stroke-width="0.9"/>
<line x1="314.91" y1="301.6" x2="314.91" y2="303.2" stroke="#111" stroke-width="0.9"/>
<line x1="316.85" y1="301.6" x2="316.85" y2="303.2" stroke="#111" stroke-width="0.9"/>
<line x1="318.57" y1="301.6" x2="318.57" y2="303.2" stroke="#111" stroke-width="0.9"/>
<line x1="320.1" y1="301.6" x2="320.1" y2="304.2" stroke="#111" stroke-width="0.9"/>
<line x1="330.18" y1="301.6" x2="330.18" y2="303.2" stroke="#111" stroke-width="0.9"/>
<text x="240.2" y="315.6" font-size="7" text-anchor="middle" fill="#222">0</text>
<text x="250.6" y="315.6" font-size="7" text-anchor="middle" fill="#222">10</text>
<text x="255.8" y="312.4" font-size="5" text-anchor="middle" fill="#222">2</text>
<text x="285" y="315.6" font-size="7" text-anchor="middle" fill="#222">10</text>
<text x="290.2" y="312.4" font-size="5" text-anchor="middle" fill="#222">3</text>
<text x="318.5" y="315.6" font-size="7" text-anchor="middle" fill="#222">10</text>
<text x="323.7" y="312.4" font-size="5" text-anchor="middle" fill="#222">4</text>
<path d="M222.18,301.54 L222.39,300.93 L222.47,300.58 L222.66,299.83 L222.88,298.79 L223.22,297.86 L223.51,297.07 L223.79,295.86 L223.97,294.99 L224.17,294.33 L224.35,293.54 L224.62,293.05 L224.69,292.48 L225.04,291.76 L225.3,290.96 L225.46,289.96 L225.52,289.45 L225.94,288.46 L226.14,287.4 L226.26,286.65 L226.43,285.26 L226.6,284.91 L226.73,284.06 L226.82,283.64 L227.11,282.59 L227.1,282.01 L227.21,281.56 L227.49,280.47 L227.46,279.78 L227.59,279.29 L227.75,278.49 L227.86,277.46 L228.07,276.74 L228.2,275.86 L228.41,274.99 L228.52,274.39 L228.5,273.49 L228.66,272.39 L228.98,271.47 L229.1,270.88 L229.04,269.84 L229.16,268.89 L229.34,268.16 L229.61,267.19 L229.71,266.42 L229.75,265.71 L229.9,264.87 L229.87,264.22 L230.03,263.55 L230.02,262.6 L230.1,261.94 L230.27,261.25 L230.37,260.17 L230.47,259.33 L230.59,258.68 L230.66,257.77 L230.88,256.99 L230.98,256.14 L230.92,255.31 L231.2,254.34 L231.19,253.61 L231.41,252.77 L231.39,251.86 L231.42,251 L231.63,250.21 L231.73,249.32 L231.91,248.45 L232.08,247.47 L232.16,246.58 L232.26,245.73 L232.2,244.9 L232.48,244.25 L232.59,243.61 L232.5,242.88 L232.62,241.85 L232.81,241.21 L233,240.4 L233.09,239.7 L233.17,238.83 L233.36,237.7 L233.28,236.88 L233.44,236.35 L233.5,235.46 L233.78,234.45 L233.85,233.56 L233.89,233.09 L234.13,232.17 L234.25,231.31 L234.19,230.52 L234.43,229.5 L234.47,228.99 L234.56,228.03 L234.75,227.33 L234.91,226.4 L235.04,225.45 L235.18,224.93 L235.13,223.95 L235.4,223.14 L235.38,222.49 L235.56,221.78 L235.57,220.96 L235.77,220.42 L235.7,219.52 L235.98,218.83 L236.03,217.76 L236.16,216.96 L236.2,215.72 L236.44,214.84 L236.64,213.91 L236.65,213.09 L236.8,212.18 L236.89,211.25 L237,210.32 L237.04,209.56 L237.18,208.67 L237.23,207.84 L237.42,206.87 L237.47,206.15 L237.55,205.18 L237.75,204.53 L237.75,203.57 L238.02,202.94 L238.01,202.37 L238.12,201.65 L238.2,201.25 L238.22,200.34 L238.19,200 L238.48,198.33 L238.7,196.88 L238.77,196.14 L238.85,195.64 L238.81,194.95 L238.97,194.52 L239.46,193.21 L239.73,193.78 L240.1,194.66 L240.82,193.94 L241.19,194.43 L241.39,195.35 L242.13,194.7 L242.51,195.47 L242.94,196.11 L243.88,197.64 L243.82,198.05 L244.06,198.59 L244.21,199.1 L244.32,200.16 L244.36,200.92 L244.4,201.93 L244.52,202.66 L244.86,203.69 L245.06,204.84 L245.21,205.58 L245.29,206.36 L245.27,207.04 L245.49,207.47 L245.71,208.21 L245.88,209.09 L246.03,209.83 L246.15,210.35 L246.39,211.28 L246.45,211.93 L246.59,212.86 L246.71,213.82 L247.01,214.62 L247.21,215.37 L247.48,216.45 L247.57,217.62 L247.82,218.66 L247.98,219.47 L248.12,220.37 L248.07,221 L248.24,221.46 L248.36,222.16 L248.48,223.02 L248.46,223.67 L248.65,224.64 L248.73,225.2 L248.85,226 L248.87,226.83 L249.12,227.82 L249.08,228.54 L249.3,229.14 L249.38,230.22 L249.51,230.82 L249.53,231.78 L249.66,232.66 L249.84,233.53 L249.79,234.52 L250.1,235.2 L250.12,236.09 L250.1,237.02 L250.35,237.84 L250.39,238.6 L250.45,239.45 L250.59,240.24 L250.83,241.23 L250.93,241.86 L250.98,242.62 L251.17,243.32 L251.25,244.34 L251.38,244.83 L251.43,245.64 L251.43,246.67 L251.75,247.47 L251.72,248.39 L251.85,249.3 L251.98,250.17 L252.23,250.67 L252.17,251.5 L252.25,252.61 L252.54,253.34 L252.53,254.19 L252.76,255.07 L252.83,255.82 L252.89,256.52 L253.15,257.6 L253.08,258.01 L253.34,258.89 L253.31,259.67 L253.43,260.68 L253.62,261.55 L253.83,262.29 L253.95,262.77 L253.94,263.61 L254.18,264.21 L254.21,265.16 L254.32,266 L254.43,266.56 L254.75,267.24 L254.72,268 L255.02,268.81 L255.27,269.73 L255.46,270.54 L255.64,271.65 L255.66,272.41 L255.99,273.2 L256.07,274 L256.46,275.14 L256.65,276 L256.87,276.69 L257.01,277.55 L257.09,278.24 L257.36,278.88 L257.55,279.79 L257.87,280.75 L258.17,281.39 L258.38,281.91 L258.46,282.91 L258.81,283.27 L259.03,284.25 L259.2,284.72 L259.34,285.25 L259.81,286.35 L260.22,287.15 L260.6,288.02 L260.94,288.96 L261.35,290.02 L261.67,290.67 L262.08,291.35 L262.47,292.01 L262.66,292.9 L263.1,293.71 L263.46,294.01 L263.83,294.62 L264.36,295.5 L264.68,296.05 L265.21,297 L265.69,297.64 L266.36,298.31 L267,299.02 L267.52,299.7 L268.06,300.35 L268.44,300.69 L268.83,301.33 L269.2,301.6 Z" fill="#67aa3c" stroke="#111" stroke-width="1.2" stroke-linejoin="round"/>
<path d="M271.81,301.67 L272.12,301.17 L272.53,300.78 L272.97,300.18 L273.38,299.59 L274.06,298.79 L274.68,297.95 L275.3,297.24 L275.71,296.22 L276.15,295.6 L276.33,295.1 L276.91,294.19 L277.19,293.65 L277.47,293.09 L277.86,292.35 L278.21,291.86 L278.51,291.04 L278.93,290.22 L279.33,289.4 L279.69,288.25 L279.84,287.52 L280.11,286.45 L280.58,285.29 L280.75,284.85 L280.72,283.97 L280.97,283.37 L281.07,282.79 L281.29,282.06 L281.48,281.13 L281.58,280.26 L281.59,279.51 L281.85,278.82 L281.95,278.05 L282.18,277.34 L282.13,276.18 L282.36,275.65 L282.43,274.44 L282.56,273.82 L282.8,272.82 L282.92,271.94 L283.07,271.3 L283.15,270.31 L283.27,269.32 L283.38,268.59 L283.53,267.68 L283.63,266.73 L283.58,266.21 L283.92,265.1 L283.98,264.23 L283.91,263.63 L283.99,262.86 L284.16,262.16 L284.39,261.41 L284.37,260.32 L284.54,259.55 L284.46,258.76 L284.73,257.99 L284.69,257.27 L284.82,256.57 L285,255.78 L284.96,254.97 L284.99,254.39 L285.21,253.32 L285.3,252.58 L285.25,251.98 L285.26,250.97 L285.42,250.36 L285.43,249.31 L285.67,248.42 L285.67,247.52 L285.74,246.84 L285.79,245.9 L285.98,244.88 L285.98,244.41 L286.13,243.39 L286.02,242.58 L286.24,241.95 L286.13,241.11 L286.21,240.44 L286.47,239.34 L286.48,238.66 L286.57,237.51 L286.43,236.77 L286.72,236.05 L286.67,234.87 L286.7,234.33 L286.87,233.2 L286.99,232.37 L287.02,231.65 L286.92,230.71 L287.08,229.83 L287.14,228.88 L287.11,227.95 L287.22,227.34 L287.43,226.18 L287.42,225.52 L287.36,224.64 L287.59,223.85 L287.67,223.05 L287.73,222.31 L287.69,221.53 L287.68,220.8 L287.8,220.27 L287.83,219.62 L287.97,218.44 L288.03,217.63 L288.32,216.44 L288.29,215.54 L288.37,214.79 L288.46,213.56 L288.78,212.83 L288.75,211.95 L288.82,211.36 L289.07,210.28 L289.16,209.57 L289.29,208.87 L289.37,208.45 L289.53,207.54 L289.52,207.04 L289.72,206.19 L289.82,205.65 L289.94,205.06 L290.18,204.1 L290.34,202.74 L290.61,201.63 L290.9,200.9 L291.28,199.74 L291.47,199.06 L291.61,197.98 L291.82,197.43 L292.03,196.87 L292.37,196.51 L292.49,196.54 L292.72,196.62 L292.76,197.09 L293.04,197.75 L293.32,198.32 L293.32,199.41 L293.48,200.15 L293.6,201.44 L293.78,202.48 L293.95,203.73 L293.95,205.01 L294.05,205.79 L294.06,206.2 L294.15,206.93 L294.31,208.04 L294.16,208.74 L294.21,209.39 L294.35,210.29 L294.35,211 L294.43,212.03 L294.4,213.06 L294.4,213.84 L294.52,214.65 L294.54,215.35 L294.5,216.39 L294.7,217.12 L294.6,217.98 L294.74,218.75 L294.76,219.56 L294.82,220.39 L295,221.25 L295.09,221.81 L295.28,222.58 L295.18,223.49 L295.34,224.05 L295.58,224.47 L295.67,225.47 L295.83,226.08 L295.88,226.81 L296.05,227.69 L296.05,228.7 L296.24,229.47 L296.33,230.76 L296.58,232.14 L296.57,232.66 L296.55,233.26 L296.6,233.92 L296.79,234.58 L296.75,234.97 L296.89,235.76 L296.87,236.46 L297.02,237.22 L297.17,237.74 L297.17,238.51 L297.25,239.1 L297.28,239.73 L297.32,240.8 L297.57,241.26 L297.58,242.14 L297.7,243.01 L297.79,243.7 L297.88,244.38 L297.91,245.32 L298.02,246.15 L298.06,247.02 L298.19,247.85 L298.11,248.9 L298.37,249.77 L298.26,250.45 L298.52,251.62 L298.55,252.21 L298.49,253.45 L298.57,254.32 L298.69,255.26 L298.66,256.09 L298.87,257.12 L298.77,257.95 L298.88,258.85 L299.06,260.2 L299.1,260.84 L299.05,261.24 L299.2,262.3 L299.23,263.06 L299.25,263.72 L299.21,264.6 L299.22,265.05 L299.25,265.87 L299.28,266.95 L299.28,267.67 L299.41,268.58 L299.55,269.56 L299.42,270.25 L299.62,271.15 L299.59,272.29 L299.47,273.29 L299.58,274.25 L299.63,275.07 L299.64,276.06 L299.66,276.81 L299.74,277.94 L299.75,278.65 L299.78,279.76 L299.93,280.71 L299.95,281.67 L299.99,282.47 L299.94,283.66 L299.87,284.21 L300.08,285.42 L300.02,286.32 L299.96,287.14 L300.2,288.05 L300.13,288.77 L300.17,289.89 L300.09,290.53 L300.28,291.51 L300.18,292.39 L300.31,293.13 L300.32,293.76 L300.2,294.52 L300.35,295.1 L300.21,296.11 L300.3,296.52 L300.42,297.24 L300.4,297.87 L300.36,298.62 L300.4,299.32 L300.48,299.73 L300.38,300.21 L300.53,300.91 L300.48,301.2 L300.5,301.6 Z" fill="#a6042b" stroke="#111" stroke-width="1.2" stroke-linejoin="round"/>
<path d="M281.15,301.65 L281.51,301.04 L281.81,300.89 L282.35,300.36 L282.97,299.72 L283.4,298.69 L284.17,298.12 L284.66,297.2 L285.27,296.12 L285.6,295.65 L285.92,294.84 L286.2,294.5 L286.45,293.5 L286.86,293.11 L287.27,292.54 L287.5,291.75 L287.99,290.93 L288.39,290.3 L288.63,289.21 L288.87,288.61 L289.21,287.3 L289.56,286.56 L289.98,285.48 L289.95,284.89 L290.29,284.18 L290.46,283.5 L290.56,282.83 L290.7,282.11 L290.79,281.05 L290.95,280.61 L291.22,279.63 L291.35,278.9 L291.42,277.99 L291.49,277 L291.71,276.18 L291.73,275.48 L291.88,274.66 L291.99,273.69 L292.15,272.86 L292.33,272.17 L292.47,271.26 L292.69,270.19 L292.73,269.3 L292.97,268.59 L292.86,267.77 L293.19,266.83 L293.16,266.16 L293.24,265.05 L293.33,264.49 L293.45,263.72 L293.66,262.81 L293.71,261.79 L293.75,261.1 L293.93,260.21 L293.94,259.52 L294.08,258.35 L294.16,257.67 L294.18,256.94 L294.32,255.93 L294.4,254.95 L294.46,254.21 L294.68,253.5 L294.57,252.75 L294.82,251.69 L294.68,250.76 L294.96,249.96 L294.9,249.35 L295.08,248.42 L295.1,248.02 L295.13,247.25 L295.1,246.3 L295.16,245.6 L295.19,244.95 L295.48,243.8 L295.54,243.17 L295.52,242.05 L295.67,241.25 L295.66,240.31 L295.79,239.59 L295.63,238.72 L295.89,237.97 L295.88,237.13 L295.84,236.37 L295.85,235.83 L296.02,235.02 L296.13,234.25 L296.08,233.69 L296.27,232.89 L296.32,232.04 L296.46,231.18 L296.47,230.39 L296.7,229.53 L296.88,228.61 L296.93,227.72 L297.09,226.99 L297.25,226 L297.37,225.15 L297.56,224.45 L297.77,223.79 L297.9,222.73 L297.94,222.01 L298.15,221.02 L298.13,220.29 L298.24,219.52 L298.36,218.65 L298.48,217.87 L298.72,217.08 L298.69,216.26 L298.86,215.27 L298.87,214.41 L299.04,213.33 L299.03,212.66 L299.04,211.82 L299.31,211.05 L299.2,210.34 L299.43,209.47 L299.46,208.54 L299.43,207.88 L299.56,206.65 L299.73,205.81 L299.91,204.66 L299.96,203.37 L299.99,202.77 L299.95,201.84 L300.08,201.39 L300.24,201.1 L300.24,201.36 L300.39,201.61 L300.52,202.53 L300.67,203.43 L300.67,204.58 L300.87,205.8 L300.92,206.94 L301.15,207.57 L301.15,208.34 L301.21,208.9 L301.42,209.58 L301.65,210.33 L301.8,210.76 L301.94,211.55 L301.9,212.67 L302.02,213.23 L302.3,214.36 L302.45,215.33 L302.58,216.1 L302.61,217.17 L302.82,218.34 L302.91,219.53 L303.03,220.26 L303,220.88 L303.06,221.6 L303.04,222.38 L303.08,222.9 L303.33,223.75 L303.34,224.61 L303.44,225.55 L303.35,226.11 L303.41,227.04 L303.43,227.92 L303.64,228.7 L303.56,229.51 L303.62,230.59 L303.78,231.54 L303.82,232.43 L303.81,233.16 L304.03,233.89 L303.87,234.85 L304.04,236.02 L304.18,236.77 L304.08,237.72 L304.23,238.41 L304.17,239.44 L304.3,240.12 L304.42,240.88 L304.31,241.95 L304.47,242.72 L304.48,243.32 L304.54,244.37 L304.54,245.09 L304.7,246.1 L304.6,246.82 L304.66,247.61 L304.76,248.5 L304.84,249.27 L304.89,250.07 L304.91,251.03 L305.15,251.87 L305.21,252.74 L305.19,253.3 L305.3,254.14 L305.3,255.03 L305.21,255.93 L305.43,256.43 L305.39,257.5 L305.34,257.95 L305.56,259.04 L305.61,259.64 L305.5,260.59 L305.79,261.34 L305.83,262.17 L305.83,262.78 L305.94,263.44 L305.91,264.46 L305.92,265.02 L306.17,265.98 L306.24,266.84 L306.17,267.57 L306.26,268.44 L306.36,269.53 L306.53,270.21 L306.66,271.13 L306.74,272.11 L306.73,272.88 L306.96,273.77 L306.96,274.84 L306.93,275.53 L307.15,276.54 L307.14,277.21 L307.36,278.07 L307.35,278.82 L307.49,279.72 L307.47,280.32 L307.71,281.24 L307.63,281.99 L307.75,282.66 L307.83,283.57 L307.92,284.34 L307.92,284.66 L308.1,285.4 L308.26,286.7 L308.21,287.67 L308.34,288.81 L308.4,289.42 L308.59,290.38 L308.55,291.03 L308.69,291.61 L308.64,292.56 L308.85,293.01 L308.77,293.83 L308.97,294.56 L308.96,295.09 L309.13,296.26 L309.41,297.13 L309.36,298.15 L309.53,298.72 L309.85,299.47 L309.92,300.28 L310.1,300.75 L310.92,301.54 L311.5,301.6 Z" fill="#2d4b7c" stroke="#111" stroke-width="1.2" stroke-linejoin="round"/>
<rect x="221.7" y="190.2" width="111.3" height="111.4" fill="none" stroke="#111" stroke-width="1.3"/>
<text x="349.5" y="174.3" font-size="11.5" text-anchor="start" font-weight="bold" fill="#111">F</text>
<line x1="378.9" y1="302" x2="381.5" y2="302" stroke="#111" stroke-width="1"/>
<text x="375.5" y="304.6" font-size="7.5" text-anchor="end" fill="#222">0</text>
<line x1="380" y1="296.26" x2="381.5" y2="296.26" stroke="#111" stroke-width="1"/>
<line x1="380" y1="290.53" x2="381.5" y2="290.53" stroke="#111" stroke-width="1"/>
<line x1="380" y1="284.8" x2="381.5" y2="284.8" stroke="#111" stroke-width="1"/>
<line x1="378.9" y1="279.06" x2="381.5" y2="279.06" stroke="#111" stroke-width="1"/>
<text x="375.5" y="281.66" font-size="7.5" text-anchor="end" fill="#222">20</text>
<line x1="380" y1="273.32" x2="381.5" y2="273.32" stroke="#111" stroke-width="1"/>
<line x1="380" y1="267.59" x2="381.5" y2="267.59" stroke="#111" stroke-width="1"/>
<line x1="380" y1="261.86" x2="381.5" y2="261.86" stroke="#111" stroke-width="1"/>
<line x1="378.9" y1="256.12" x2="381.5" y2="256.12" stroke="#111" stroke-width="1"/>
<text x="375.5" y="258.72" font-size="7.5" text-anchor="end" fill="#222">40</text>
<line x1="380" y1="250.39" x2="381.5" y2="250.39" stroke="#111" stroke-width="1"/>
<line x1="380" y1="244.65" x2="381.5" y2="244.65" stroke="#111" stroke-width="1"/>
<line x1="380" y1="238.92" x2="381.5" y2="238.92" stroke="#111" stroke-width="1"/>
<line x1="378.9" y1="233.18" x2="381.5" y2="233.18" stroke="#111" stroke-width="1"/>
<text x="375.5" y="235.78" font-size="7.5" text-anchor="end" fill="#222">60</text>
<line x1="380" y1="227.44" x2="381.5" y2="227.44" stroke="#111" stroke-width="1"/>
<line x1="380" y1="221.71" x2="381.5" y2="221.71" stroke="#111" stroke-width="1"/>
<line x1="380" y1="215.98" x2="381.5" y2="215.98" stroke="#111" stroke-width="1"/>
<line x1="378.9" y1="210.24" x2="381.5" y2="210.24" stroke="#111" stroke-width="1"/>
<text x="375.5" y="212.84" font-size="7.5" text-anchor="end" fill="#222">80</text>
<line x1="380" y1="204.51" x2="381.5" y2="204.51" stroke="#111" stroke-width="1"/>
<line x1="380" y1="198.77" x2="381.5" y2="198.77" stroke="#111" stroke-width="1"/>
<line x1="380" y1="193.04" x2="381.5" y2="193.04" stroke="#111" stroke-width="1"/>
<line x1="378.9" y1="187.3" x2="381.5" y2="187.3" stroke="#111" stroke-width="1"/>
<text x="375.5" y="189.9" font-size="7.5" text-anchor="end" fill="#222">100</text>
<text x="356.8" y="244.65" font-size="8.8" text-anchor="middle" fill="#222" transform="rotate(-90 356.8 244.65)">Percent of maximum</text>
<text x="439.55" y="182.1" font-size="9.5" text-anchor="middle" fill="#222">Spleen</text>
<line x1="382.8" y1="302" x2="382.8" y2="303.6" stroke="#111" stroke-width="0.9"/>
<line x1="386.4" y1="302" x2="386.4" y2="303.6" stroke="#111" stroke-width="0.9"/>
<line x1="390" y1="302" x2="390" y2="303.6" stroke="#111" stroke-width="0.9"/>
<line x1="393.6" y1="302" x2="393.6" y2="303.6" stroke="#111" stroke-width="0.9"/>
<line x1="397.2" y1="302" x2="397.2" y2="303.6" stroke="#111" stroke-width="0.9"/>
<line x1="400.8" y1="302" x2="400.8" y2="303.6" stroke="#111" stroke-width="0.9"/>
<line x1="404.4" y1="302" x2="404.4" y2="303.6" stroke="#111" stroke-width="0.9"/>
<line x1="408" y1="302" x2="408" y2="303.6" stroke="#111" stroke-width="0.9"/>
<line x1="411.6" y1="302" x2="411.6" y2="303.6" stroke="#111" stroke-width="0.9"/>
<line x1="412.9" y1="302" x2="412.9" y2="304.6" stroke="#111" stroke-width="0.9"/>
<line x1="422.98" y1="302" x2="422.98" y2="303.6" stroke="#111" stroke-width="0.9"/>
<line x1="428.88" y1="302" x2="428.88" y2="303.6" stroke="#111" stroke-width="0.9"/>
<line x1="433.07" y1="302" x2="433.07" y2="303.6" stroke="#111" stroke-width="0.9"/>
<line x1="436.32" y1="302" x2="436.32" y2="303.6" stroke="#111" stroke-width="0.9"/>
<line x1="438.97" y1="302" x2="438.97" y2="303.6" stroke="#111" stroke-width="0.9"/>
<line x1="441.21" y1="302" x2="441.21" y2="303.6" stroke="#111" stroke-width="0.9"/>
<line x1="443.15" y1="302" x2="443.15" y2="303.6" stroke="#111" stroke-width="0.9"/>
<line x1="444.87" y1="302" x2="444.87" y2="303.6" stroke="#111" stroke-width="0.9"/>
<line x1="446.4" y1="302" x2="446.4" y2="304.6" stroke="#111" stroke-width="0.9"/>
<line x1="456.48" y1="302" x2="456.48" y2="303.6" stroke="#111" stroke-width="0.9"/>
<line x1="462.38" y1="302" x2="462.38" y2="303.6" stroke="#111" stroke-width="0.9"/>
<line x1="466.57" y1="302" x2="466.57" y2="303.6" stroke="#111" stroke-width="0.9"/>
<line x1="469.82" y1="302" x2="469.82" y2="303.6" stroke="#111" stroke-width="0.9"/>
<line x1="472.47" y1="302" x2="472.47" y2="303.6" stroke="#111" stroke-width="0.9"/>
<line x1="474.71" y1="302" x2="474.71" y2="303.6" stroke="#111" stroke-width="0.9"/>
<line x1="476.65" y1="302" x2="476.65" y2="303.6" stroke="#111" stroke-width="0.9"/>
<line x1="478.37" y1="302" x2="478.37" y2="303.6" stroke="#111" stroke-width="0.9"/>
<line x1="479.9" y1="302" x2="479.9" y2="304.6" stroke="#111" stroke-width="0.9"/>
<line x1="489.98" y1="302" x2="489.98" y2="303.6" stroke="#111" stroke-width="0.9"/>
<line x1="495.88" y1="302" x2="495.88" y2="303.6" stroke="#111" stroke-width="0.9"/>
<text x="400" y="316" font-size="7" text-anchor="middle" fill="#222">0</text>
<text x="410.4" y="316" font-size="7" text-anchor="middle" fill="#222">10</text>
<text x="415.6" y="312.8" font-size="5" text-anchor="middle" fill="#222">2</text>
<text x="444.8" y="316" font-size="7" text-anchor="middle" fill="#222">10</text>
<text x="450" y="312.8" font-size="5" text-anchor="middle" fill="#222">3</text>
<text x="478.3" y="316" font-size="7" text-anchor="middle" fill="#222">10</text>
<text x="483.5" y="312.8" font-size="5" text-anchor="middle" fill="#222">4</text>
<path d="M384.69,301.97 L384.93,301.67 L385.1,301.05 L385.65,300.19 L386.02,299.28 L386.53,298.16 L386.87,296.93 L386.99,296.52 L387.28,295.54 L387.41,295.03 L387.78,294.29 L388.04,293.74 L388.06,292.91 L388.38,291.92 L388.68,290.93 L388.9,290.15 L388.99,289.4 L389.24,288.33 L389.33,287.3 L389.56,286.39 L389.87,285.3 L389.88,284.8 L390.07,283.8 L390,283.17 L390.29,282.63 L390.29,281.68 L390.36,281.17 L390.35,280.18 L390.6,279.26 L390.5,278.77 L390.58,277.88 L390.69,277.09 L390.8,276.23 L390.88,275.13 L390.82,274.49 L390.95,273.36 L391.19,272.74 L391.24,271.73 L391.18,270.91 L391.4,269.88 L391.41,268.95 L391.42,268.09 L391.58,267.26 L391.69,266.56 L391.72,265.68 L391.71,264.99 L391.99,264.34 L391.94,263.47 L392.04,262.59 L392.08,261.78 L392.18,261.2 L392.34,260.08 L392.35,259.17 L392.55,258.56 L392.46,257.62 L392.53,257.04 L392.74,255.97 L392.79,255.35 L392.86,254.19 L392.91,253.39 L393.09,252.75 L393.12,251.83 L393.35,250.95 L393.45,249.92 L393.47,249.09 L393.49,248.51 L393.55,247.67 L393.75,246.63 L393.62,245.87 L393.81,244.86 L393.76,244.11 L393.9,243.48 L393.97,242.69 L394.05,241.58 L394.23,241.01 L394.13,240.08 L394.19,239.24 L394.19,238.34 L394.47,237.38 L394.36,236.85 L394.37,235.96 L394.56,235.22 L394.57,234.35 L394.72,233.41 L394.6,232.54 L394.85,231.63 L394.7,230.87 L394.78,230.17 L394.99,229.29 L394.96,228.39 L395.13,227.85 L394.99,227.01 L395.18,226.24 L395.34,225.09 L395.41,224.27 L395.26,223.42 L395.45,222.79 L395.58,222.03 L395.63,221 L395.77,220.22 L395.79,219.46 L395.93,218.36 L395.85,217.51 L396.07,216.65 L396.09,215.68 L396.13,214.86 L396.26,213.74 L396.42,213.04 L396.51,211.92 L396.62,211.25 L396.56,210.07 L396.82,209.5 L396.92,208.33 L396.99,207.59 L397.09,206.65 L397.12,205.84 L397.3,205.02 L397.28,204.47 L397.36,203.42 L397.47,202.99 L397.67,202.03 L397.57,201.58 L397.75,201.12 L397.91,200.63 L397.99,200.13 L398.41,197.84 L398.75,197.24 L399.06,197.11 L399.39,196.83 L399.67,195.73 L399.98,195.34 L400.48,196.14 L400.92,195.05 L401.19,194.42 L401.69,195.76 L402.31,195.02 L402.55,195.7 L402.77,196.41 L403.08,197.34 L403.18,198 L403.38,198.8 L403.77,200.16 L403.79,200.51 L403.92,201.35 L404,202.06 L404.19,202.85 L404.26,203.84 L404.37,204.68 L404.51,205.37 L404.62,206.51 L404.85,207.11 L405.04,208.08 L405.13,208.68 L405.23,209.71 L405.56,210.23 L405.55,210.94 L405.9,211.79 L405.98,212.67 L406.26,213.61 L406.26,214.36 L406.53,215.56 L406.58,216.13 L406.59,217.01 L406.69,217.63 L406.77,218.61 L407.02,219.07 L407.1,219.89 L407.3,220.74 L407.24,221.66 L407.37,222.35 L407.53,223.46 L407.58,224.32 L407.66,225.32 L407.89,226.1 L407.88,227.15 L408.07,228.12 L408.06,228.64 L408.13,229.58 L408.26,230.21 L408.28,230.93 L408.37,232.14 L408.41,232.94 L408.62,233.62 L408.82,234.51 L408.76,235.67 L409,236.24 L409,237.4 L408.97,238 L409.23,239.12 L409.23,239.89 L409.33,240.65 L409.47,241.51 L409.48,242.28 L409.64,242.95 L409.59,243.93 L409.77,244.51 L409.71,244.89 L409.84,246.43 L409.91,247.09 L410.04,248.09 L410.06,248.36 L410.16,249.16 L410.31,249.71 L410.28,250.84 L410.44,251.93 L410.61,252.41 L410.71,253.16 L410.73,254.09 L410.84,254.6 L410.88,255.45 L411.06,256.22 L411.31,256.94 L411.35,258.02 L411.54,258.64 L411.7,259.64 L411.68,260.63 L411.9,261.56 L412.09,262.28 L412.06,263.14 L412.31,263.89 L412.33,264.82 L412.61,265.55 L412.75,266.43 L412.86,267.44 L413.01,267.89 L413.13,268.97 L413.15,269.99 L413.44,270.67 L413.39,271.51 L413.64,272.26 L413.88,273.2 L413.89,273.9 L414.08,274.98 L414.22,275.81 L414.44,276.59 L414.49,277.34 L414.6,277.88 L414.67,278.52 L414.85,279.33 L414.9,279.96 L415.15,281.15 L415.34,281.85 L415.61,282.72 L415.74,283.66 L415.86,284.43 L416.02,284.98 L416.16,285.91 L416.51,286.35 L416.56,287.11 L416.89,287.95 L417.09,288.79 L417.36,289.57 L417.68,290.33 L417.89,291.19 L418.35,292.3 L418.57,292.9 L418.78,293.59 L419.35,294.53 L419.6,295.11 L419.88,296.12 L420.44,296.82 L421.16,297.68 L421.78,298.52 L422.4,298.97 L422.97,299.88 L423.63,300.4 L424.17,301.08 L424.59,301.79 L425,302 Z" fill="#67aa3c" stroke="#111" stroke-width="1.2" stroke-linejoin="round"/>
<path d="M397.74,302.43 L398.37,302.09 L398.94,301.56 L399.4,301.04 L400.1,301.14 L401.22,301.41 L402.01,300.89 L402.28,300.07 L403.63,299.72 L404.34,299.99 L404.67,299.54 L405.73,299.72 L406.16,299.26 L406.66,298.96 L407.8,299.36 L407.9,298.46 L408.77,298.54 L409.23,297.97 L409.96,296.66 L410.57,296.13 L410.61,295.61 L410.98,294.78 L411.35,294.93 L411.78,293.67 L412.56,292.96 L413.18,292.67 L413.5,292.63 L414.33,292.33 L414.67,290.99 L414.73,290.88 L415.1,290.45 L416.21,289.82 L416.55,289.35 L416.84,288.99 L417.49,288.04 L418.5,288.19 L419.32,288.87 L419.96,288.18 L420.01,288.67 L420.71,287.76 L421.33,286.71 L421.52,286.85 L422.11,285.66 L422.22,285.14 L422.49,283.86 L423.54,283.21 L423.7,282.26 L424.09,282.09 L423.81,281.65 L424.64,280.6 L425.36,280.06 L425.87,279.05 L426.41,279.48 L426.83,280.1 L427.37,280.69 L428.77,281.32 L429.07,280.53 L429.38,279.88 L429.99,278.41 L430.61,278.47 L430.56,277.66 L431.41,276.91 L432.62,277.38 L433.16,276.84 L433.08,276.17 L433.87,275.39 L433.84,275.47 L433.74,274.44 L433.8,272.82 L434.14,271.99 L434.62,272.32 L434.48,270.63 L434.63,269.69 L435.07,269.23 L435.2,268.79 L435.9,268.55 L437.13,267.88 L437.79,267.84 L438.44,267.34 L438.75,266.42 L439.35,266.82 L439.79,265.96 L440.43,264.41 L440.53,263.94 L441.24,263.83 L441.74,264.14 L441.74,265.74 L442.28,266.17 L442.39,267.75 L442.6,268.23 L443.16,268.37 L443.14,268.3 L443.75,267 L443.91,267.19 L444.11,266.86 L444.41,265.8 L444.31,265.44 L444.33,264.18 L444.73,263.49 L445.19,262.81 L445.4,262.73 L445.24,261.53 L445.86,260.72 L445.96,259.97 L446.31,258.97 L446.41,258.54 L446.88,257.97 L446.78,256.96 L446.96,256.5 L447.42,256.12 L447.4,254.84 L447.72,253.64 L447.25,253.52 L448.01,252.04 L448,252.22 L447.89,251.02 L448.53,250.37 L448.06,249.81 L448.25,248.58 L448.95,248.66 L448.8,248.04 L448.67,246.63 L449.02,245.91 L449.15,245.45 L449.66,245.27 L449.82,244 L449.61,243.08 L449.65,242.91 L450.47,241.31 L450.21,241.07 L450.71,240.75 L450.8,239.6 L451,238.67 L450.79,238.38 L450.71,237.27 L450.9,237.11 L451.69,236.81 L451.68,235.75 L451.81,235.29 L451.95,234.72 L451.96,234 L452.48,233.05 L452.51,231.71 L453.05,231.89 L453.19,230.65 L453.5,230.41 L453.93,229.04 L454,229.22 L454.23,228.09 L454.69,226.88 L454.31,226.7 L454.71,226.15 L455.28,224.47 L455.14,224.01 L455.42,223.13 L455.85,222.92 L456.11,222.66 L455.98,221.57 L456.08,221.18 L456.55,219.78 L456.86,218.93 L456.93,217.71 L457.38,216.75 L457.99,216.36 L457.88,216.01 L458.49,216.69 L459.38,217.57 L460.14,217.57 L460.38,219.24 L461.1,219.47 L461.91,220.65 L461.9,220.6 L465,250 L470,302 Z" fill="#a6042b" stroke="#111" stroke-width="1.2" stroke-linejoin="round"/>
<path d="M439.96,301.74 L440.81,301.93 L442.02,301.01 L442.31,300.13 L442.95,299.95 L443.53,298.85 L444.17,298.13 L444.55,296.75 L444.83,295.96 L445.11,295.67 L445.53,294.58 L445.83,293.91 L445.89,292.92 L446.22,292.08 L446.37,290.7 L446.76,290.49 L447,289.12 L446.94,288.7 L447.17,287.97 L447.56,286.79 L447.62,285.89 L447.92,285 L448.22,284.42 L448.41,283.59 L448.47,282.45 L448.91,281.88 L449.1,280.69 L449.08,279.9 L449.63,279.16 L449.85,278.39 L450.1,277.77 L450.39,276.66 L450.5,275.75 L450.75,274.92 L451.21,274.64 L451.42,273.98 L451.59,272.97 L452.16,272.19 L452.44,271.28 L452.72,270.33 L453.07,269.21 L452.91,268.5 L453.32,268.05 L453.35,267.37 L453.44,266.56 L453.62,265.5 L453.69,264.58 L454.03,263.7 L454.11,263.06 L454.25,262.19 L454.28,261.44 L454.75,260.56 L454.79,259.61 L454.74,259.05 L455,257.76 L455.17,257.2 L455.28,256.15 L455.58,255.25 L455.63,254.14 L455.82,253.3 L455.93,252.56 L455.99,251.77 L456.22,251.06 L456.18,250.22 L456.2,249.42 L456.34,248.86 L456.42,247.5 L456.78,246.98 L456.91,246.05 L457,244.99 L456.86,244.49 L457.04,243.24 L457.17,242.59 L457.18,241.92 L457.33,240.76 L457.48,239.8 L457.51,239.29 L457.77,238.24 L457.91,237.43 L457.78,236.96 L458.1,235.8 L458.16,235 L458.24,234.49 L458.35,233.46 L458.4,232.66 L458.51,232.23 L458.49,230.88 L458.82,230.14 L458.76,229.58 L458.86,228.61 L458.95,227.67 L459.08,227.02 L459.29,225.71 L459.22,224.71 L459.59,223.92 L459.52,222.96 L459.75,222.03 L459.84,221.17 L459.78,220.53 L460.18,219.69 L460.27,218.98 L460.3,218.35 L460.91,217 L461.28,216.19 L462.05,215.94 L462.5,215.09 L462.98,214.02 L463.17,212.95 L463.21,212.01 L463.56,211.14 L464.02,210.62 L464.01,210.13 L464.29,210.06 L464.39,210.72 L464.58,211.55 L464.69,212.7 L465.16,213.89 L465.13,214.8 L465.32,215.46 L465.08,215.55 L465.34,216.33 L465.24,217.42 L465.59,218.01 L465.66,218.6 L465.5,219.92 L465.71,220.87 L465.67,222.16 L465.66,222.71 L465.85,222.99 L465.88,223.88 L466.12,224.53 L465.98,225.42 L466.15,226.18 L466.21,226.89 L466.22,227.75 L466.16,228.75 L466.27,229.52 L466.3,230.4 L466.37,231.55 L466.37,232.65 L466.42,233.06 L466.45,233.91 L466.24,235.29 L466.52,235.64 L466.51,236.68 L466.64,237.81 L466.65,238.45 L466.66,239.48 L466.75,239.92 L466.79,240.86 L466.69,241.73 L466.6,242.39 L466.77,243.79 L466.82,244.52 L466.89,245.36 L466.86,245.84 L466.85,246.95 L466.86,247.95 L467.2,248.54 L466.99,249.44 L467.24,249.87 L467.07,250.86 L467.33,251.5 L467.25,252.25 L467.29,253.61 L467.27,254.38 L467.34,254.82 L467.58,255.97 L467.73,256.83 L467.54,257.63 L467.57,258.31 L467.75,259.35 L468,259.98 L467.96,261.13 L468.12,261.6 L467.95,262.71 L468.28,263.31 L468.34,264.46 L468.14,264.99 L468.23,266.07 L468.38,266.73 L468.46,267.71 L468.73,268.26 L468.88,269.3 L468.67,269.77 L468.9,270.9 L469,271.84 L469.13,272.15 L469.37,273.09 L469.52,274.26 L469.55,274.67 L469.83,275.56 L469.86,276.36 L469.84,277.53 L469.95,278.27 L470.16,278.77 L470.36,279.59 L470.67,280.74 L470.65,281.27 L470.73,282.28 L470.89,282.8 L471.01,283.83 L471.06,284.49 L471.22,284.89 L471.35,285.86 L471.75,286.94 L471.97,288.04 L471.88,288.74 L472.09,289.57 L472.35,290.34 L472.21,291.32 L472.49,292.15 L472.59,292.71 L472.98,293.72 L472.86,294.38 L473.04,294.72 L473.34,295.95 L473.55,297.12 L474.06,297.91 L474.25,299.26 L474.47,300.02 L474.7,300.58 L475.13,301.1 L476.23,302 L477,302 Z" fill="#2d4b7c" stroke="#111" stroke-width="1.2" stroke-linejoin="round"/>
<rect x="381.5" y="187.3" width="116.1" height="114.7" fill="none" stroke="#111" stroke-width="1.3"/>
<text x="41.3" y="332.4" font-size="9.2" text-anchor="start" fill="#222" textLength="25.8" lengthAdjust="spacingAndGlyphs">CXCR2</text>
<line x1="75.3" y1="329.1" x2="393" y2="329.1" stroke="#111" stroke-width="1.45"/>
<path d="M401.5,329.1 L390.9,325.1 L393.4,329.1 L390.9,333.2 Z" fill="#111"/>
<rect x="227.3" y="333" width="6.6" height="6.8" fill="#67aa3c"/>
<text x="237.3" y="338.8" font-size="7.5" text-anchor="start" fill="#222">isotype</text>
<rect x="270.6" y="333" width="6.6" height="6.8" fill="#2d4b7c"/>
<text x="280.6" y="338.8" font-size="7.5" text-anchor="start" fill="#222">WT</text>
<rect x="301.2" y="333" width="6.6" height="6.8" fill="#a6042b"/>
<text x="311.2" y="338.8" font-size="7.5" text-anchor="start" fill="#222">th3/+</text>
<text x="8.3" y="360.7" font-size="11.5" text-anchor="start" font-weight="bold" fill="#111">G</text>
<line x1="38.1" y1="486.9" x2="40.7" y2="486.9" stroke="#111" stroke-width="1"/>
<text x="34.7" y="489.5" font-size="7.5" text-anchor="end" fill="#222">0</text>
<line x1="39.2" y1="481.26" x2="40.7" y2="481.26" stroke="#111" stroke-width="1"/>
<line x1="39.2" y1="475.63" x2="40.7" y2="475.63" stroke="#111" stroke-width="1"/>
<line x1="39.2" y1="470" x2="40.7" y2="470" stroke="#111" stroke-width="1"/>
<line x1="38.1" y1="464.36" x2="40.7" y2="464.36" stroke="#111" stroke-width="1"/>
<text x="34.7" y="466.96" font-size="7.5" text-anchor="end" fill="#222">20</text>
<line x1="39.2" y1="458.72" x2="40.7" y2="458.72" stroke="#111" stroke-width="1"/>
<line x1="39.2" y1="453.09" x2="40.7" y2="453.09" stroke="#111" stroke-width="1"/>
<line x1="39.2" y1="447.45" x2="40.7" y2="447.45" stroke="#111" stroke-width="1"/>
<line x1="38.1" y1="441.82" x2="40.7" y2="441.82" stroke="#111" stroke-width="1"/>
<text x="34.7" y="444.42" font-size="7.5" text-anchor="end" fill="#222">40</text>
<line x1="39.2" y1="436.19" x2="40.7" y2="436.19" stroke="#111" stroke-width="1"/>
<line x1="39.2" y1="430.55" x2="40.7" y2="430.55" stroke="#111" stroke-width="1"/>
<line x1="39.2" y1="424.91" x2="40.7" y2="424.91" stroke="#111" stroke-width="1"/>
<line x1="38.1" y1="419.28" x2="40.7" y2="419.28" stroke="#111" stroke-width="1"/>
<text x="34.7" y="421.88" font-size="7.5" text-anchor="end" fill="#222">60</text>
<line x1="39.2" y1="413.64" x2="40.7" y2="413.64" stroke="#111" stroke-width="1"/>
<line x1="39.2" y1="408.01" x2="40.7" y2="408.01" stroke="#111" stroke-width="1"/>
<line x1="39.2" y1="402.38" x2="40.7" y2="402.38" stroke="#111" stroke-width="1"/>
<line x1="38.1" y1="396.74" x2="40.7" y2="396.74" stroke="#111" stroke-width="1"/>
<text x="34.7" y="399.34" font-size="7.5" text-anchor="end" fill="#222">80</text>
<line x1="39.2" y1="391.11" x2="40.7" y2="391.11" stroke="#111" stroke-width="1"/>
<line x1="39.2" y1="385.47" x2="40.7" y2="385.47" stroke="#111" stroke-width="1"/>
<line x1="39.2" y1="379.83" x2="40.7" y2="379.83" stroke="#111" stroke-width="1"/>
<line x1="38.1" y1="374.2" x2="40.7" y2="374.2" stroke="#111" stroke-width="1"/>
<text x="34.7" y="376.8" font-size="7.5" text-anchor="end" fill="#222">100</text>
<text x="16.8" y="430.55" font-size="8.8" text-anchor="middle" fill="#222" transform="rotate(-90 16.8 430.55)">Percent of maximum</text>
<text x="97.7" y="369" font-size="9.5" text-anchor="middle" fill="#222">Bone marrow</text>
<line x1="41.5" y1="486.9" x2="41.5" y2="489.5" stroke="#111" stroke-width="0.9"/>
<line x1="49.21" y1="486.9" x2="49.21" y2="488.5" stroke="#111" stroke-width="0.9"/>
<line x1="53.71" y1="486.9" x2="53.71" y2="488.5" stroke="#111" stroke-width="0.9"/>
<line x1="56.91" y1="486.9" x2="56.91" y2="488.5" stroke="#111" stroke-width="0.9"/>
<line x1="59.39" y1="486.9" x2="59.39" y2="488.5" stroke="#111" stroke-width="0.9"/>
<line x1="61.42" y1="486.9" x2="61.42" y2="488.5" stroke="#111" stroke-width="0.9"/>
<line x1="63.13" y1="486.9" x2="63.13" y2="488.5" stroke="#111" stroke-width="0.9"/>
<line x1="64.62" y1="486.9" x2="64.62" y2="488.5" stroke="#111" stroke-width="0.9"/>
<line x1="65.93" y1="486.9" x2="65.93" y2="488.5" stroke="#111" stroke-width="0.9"/>
<text x="39.9" y="500.9" font-size="7" text-anchor="middle" fill="#222">10</text>
<text x="45.1" y="497.7" font-size="5" text-anchor="middle" fill="#222">0</text>
<line x1="67.1" y1="486.9" x2="67.1" y2="489.5" stroke="#111" stroke-width="0.9"/>
<line x1="74.81" y1="486.9" x2="74.81" y2="488.5" stroke="#111" stroke-width="0.9"/>
<line x1="79.31" y1="486.9" x2="79.31" y2="488.5" stroke="#111" stroke-width="0.9"/>
<line x1="82.51" y1="486.9" x2="82.51" y2="488.5" stroke="#111" stroke-width="0.9"/>
<line x1="84.99" y1="486.9" x2="84.99" y2="488.5" stroke="#111" stroke-width="0.9"/>
<line x1="87.02" y1="486.9" x2="87.02" y2="488.5" stroke="#111" stroke-width="0.9"/>
<line x1="88.73" y1="486.9" x2="88.73" y2="488.5" stroke="#111" stroke-width="0.9"/>
<line x1="90.22" y1="486.9" x2="90.22" y2="488.5" stroke="#111" stroke-width="0.9"/>
<line x1="91.53" y1="486.9" x2="91.53" y2="488.5" stroke="#111" stroke-width="0.9"/>
<text x="65.5" y="500.9" font-size="7" text-anchor="middle" fill="#222">10</text>
<text x="70.7" y="497.7" font-size="5" text-anchor="middle" fill="#222">1</text>
<line x1="92.7" y1="486.9" x2="92.7" y2="489.5" stroke="#111" stroke-width="0.9"/>
<line x1="100.41" y1="486.9" x2="100.41" y2="488.5" stroke="#111" stroke-width="0.9"/>
<line x1="104.91" y1="486.9" x2="104.91" y2="488.5" stroke="#111" stroke-width="0.9"/>
<line x1="108.11" y1="486.9" x2="108.11" y2="488.5" stroke="#111" stroke-width="0.9"/>
<line x1="110.59" y1="486.9" x2="110.59" y2="488.5" stroke="#111" stroke-width="0.9"/>
<line x1="112.62" y1="486.9" x2="112.62" y2="488.5" stroke="#111" stroke-width="0.9"/>
<line x1="114.33" y1="486.9" x2="114.33" y2="488.5" stroke="#111" stroke-width="0.9"/>
<line x1="115.82" y1="486.9" x2="115.82" y2="488.5" stroke="#111" stroke-width="0.9"/>
<line x1="117.13" y1="486.9" x2="117.13" y2="488.5" stroke="#111" stroke-width="0.9"/>
<text x="91.1" y="500.9" font-size="7" text-anchor="middle" fill="#222">10</text>
<text x="96.3" y="497.7" font-size="5" text-anchor="middle" fill="#222">2</text>
<line x1="118.3" y1="486.9" x2="118.3" y2="489.5" stroke="#111" stroke-width="0.9"/>
<line x1="126.01" y1="486.9" x2="126.01" y2="488.5" stroke="#111" stroke-width="0.9"/>
<line x1="130.51" y1="486.9" x2="130.51" y2="488.5" stroke="#111" stroke-width="0.9"/>
<line x1="133.71" y1="486.9" x2="133.71" y2="488.5" stroke="#111" stroke-width="0.9"/>
<line x1="136.19" y1="486.9" x2="136.19" y2="488.5" stroke="#111" stroke-width="0.9"/>
<line x1="138.22" y1="486.9" x2="138.22" y2="488.5" stroke="#111" stroke-width="0.9"/>
<line x1="139.93" y1="486.9" x2="139.93" y2="488.5" stroke="#111" stroke-width="0.9"/>
<line x1="141.42" y1="486.9" x2="141.42" y2="488.5" stroke="#111" stroke-width="0.9"/>
<line x1="142.73" y1="486.9" x2="142.73" y2="488.5" stroke="#111" stroke-width="0.9"/>
<text x="116.7" y="500.9" font-size="7" text-anchor="middle" fill="#222">10</text>
<text x="121.9" y="497.7" font-size="5" text-anchor="middle" fill="#222">3</text>
<line x1="143.9" y1="486.9" x2="143.9" y2="489.5" stroke="#111" stroke-width="0.9"/>
<line x1="151.61" y1="486.9" x2="151.61" y2="488.5" stroke="#111" stroke-width="0.9"/>
<text x="142.3" y="500.9" font-size="7" text-anchor="middle" fill="#222">10</text>
<text x="147.5" y="497.7" font-size="5" text-anchor="middle" fill="#222">4</text>
<path d="M40.95,486.96 L41.65,486.98 L42.16,486.61 L43.06,486.38 L43.98,486.35 L44.95,486.23 L45.94,486.14 L46.52,485.99 L47.53,486.32 L48.39,486.13 L49.13,485.66 L49.86,486.01 L51.06,485.55 L52,485.42 L52.91,485.35 L53.98,485.22 L54.85,485.3 L55.73,485.12 L56.65,485.25 L57.3,485.21 L58.16,484.95 L59.2,484.51 L59.87,484.03 L60.76,484.2 L61.69,484.06 L62.65,483.55 L63.33,483.14 L64.03,482.94 L64.5,482.11 L64.92,481.36 L65.24,480.9 L65.76,480.06 L66.32,479.41 L66.95,478.46 L67.2,477.82 L67.88,477.26 L68.16,476.46 L68.61,476.11 L69.14,475.42 L69.75,474.32 L70.16,473.93 L70.52,472.9 L71.14,472.05 L71.44,471.72 L72.02,470.85 L72.41,470.26 L72.67,469.68 L73.17,469.03 L73.57,468 L73.85,467.25 L74.34,466.71 L74.71,465.72 L74.97,464.88 L75.36,463.86 L75.45,463.19 L75.72,462.52 L75.8,462.14 L76.15,461.26 L76.54,460.59 L76.53,459.81 L76.88,458.86 L77.23,457.96 L77.31,457.23 L77.59,456.33 L77.68,455.79 L77.94,454.79 L78.17,453.73 L78.43,453.17 L78.63,452.59 L78.8,451.76 L79.01,450.83 L79.12,450.09 L79.13,448.98 L79.19,448.39 L79.58,447.29 L79.62,446.38 L79.8,445.55 L79.75,444.94 L80.12,443.88 L80.28,443.05 L80.26,442.17 L80.48,441.33 L80.58,440.72 L80.52,440.09 L80.57,439.48 L80.93,438.52 L81,437.27 L81.08,436.49 L81.18,436 L81.15,435.06 L81.37,434.06 L81.6,433.48 L81.68,432.77 L81.79,431.94 L81.63,430.91 L81.95,430.13 L81.91,429.15 L82.21,428.55 L82.16,427.89 L82.24,427.05 L82.3,426.15 L82.36,425.47 L82.48,424.54 L82.8,423.49 L82.83,422.99 L83.01,422.18 L83.09,421.11 L83.05,419.99 L83.24,419.52 L83.31,418.79 L83.41,417.64 L83.61,417.18 L83.57,416.08 L83.67,415.35 L83.84,414.61 L84.16,413.7 L84.19,412.62 L84.27,411.99 L84.51,411.03 L84.53,410.14 L84.64,409.21 L84.7,408.89 L84.79,407.97 L84.92,406.98 L85.02,406.43 L85.2,405.2 L85.33,404.64 L85.36,403.74 L85.47,402.99 L85.57,401.88 L85.71,400.87 L85.89,400.27 L85.97,399.26 L86.23,398.27 L86.19,397.73 L86.56,396.75 L86.67,395.86 L86.75,394.89 L86.7,394.12 L86.74,393.42 L86.95,393.13 L87.3,391.66 L87.54,390.55 L87.76,389.64 L87.8,389.27 L88.1,388.71 L88.14,388.23 L89.54,387.56 L90.23,388.03 L90.75,389.68 L90.87,390.08 L90.94,390.65 L91.24,391.39 L91.45,392.17 L91.41,392.96 L91.59,394.08 L91.75,394.68 L91.81,395.98 L91.88,396.87 L92.03,397.7 L92.03,398.53 L92.09,399.19 L92.14,399.76 L92.39,400.78 L92.48,401.51 L92.55,402.54 L92.48,403.33 L92.65,404.09 L92.54,404.93 L92.81,406.17 L92.84,406.9 L92.88,407.51 L92.81,408.67 L92.99,409.41 L93.07,410.61 L93.09,410.95 L93.04,411.89 L93.21,412.54 L93.21,413.44 L93.44,414.36 L93.42,415.05 L93.54,416.05 L93.45,416.96 L93.47,417.78 L93.74,418.4 L93.69,419.44 L93.87,420.15 L93.95,420.66 L93.83,421.87 L93.99,422.44 L94.21,423.57 L94.11,424.02 L94.07,424.81 L94.39,425.67 L94.23,426.82 L94.41,427.48 L94.52,428.18 L94.4,428.79 L94.64,429.59 L94.55,430.72 L94.72,431.16 L94.77,432.3 L94.76,433.19 L94.85,433.78 L94.92,434.43 L94.85,435.36 L94.78,436.51 L95.08,437.12 L95.18,438.06 L95.04,439.15 L95.16,440 L95.32,440.78 L95.19,441.41 L95.28,442.3 L95.54,442.91 L95.37,443.55 L95.45,444.33 L95.55,444.88 L95.73,445.63 L95.76,446.67 L95.72,447.54 L95.87,448 L96.05,448.88 L96.05,449.54 L96.1,450.39 L96.3,451.04 L96.28,451.85 L96.36,452.78 L96.55,453.86 L96.57,454.8 L96.47,455.37 L96.81,456.18 L96.73,457.19 L96.8,458.08 L96.86,458.92 L96.99,459.99 L96.94,460.51 L97.11,461.26 L97.3,462.36 L97.28,463.06 L97.32,464.1 L97.27,464.85 L97.51,465.82 L97.56,466.54 L97.47,467.42 L97.67,468.42 L97.65,469.4 L97.86,470.64 L97.74,471.25 L98.06,472.43 L98.06,473.39 L98.14,474.46 L98.14,474.98 L98.24,476.05 L98.32,476.85 L98.28,478.03 L98.36,478.87 L98.46,479.76 L98.52,480.74 L98.46,481.09 L98.53,482.19 L98.7,482.97 L98.73,483.48 L98.82,484.4 L98.84,484.81 L98.88,485.48 L98.9,486.08 L98.85,486.36 L99,486.9 Z" fill="#67aa3c" stroke="#111" stroke-width="1.2" stroke-linejoin="round"/>
<path d="M54.92,486.88 L55.38,486.66 L56.1,486.59 L56.58,486.5 L57.33,486.33 L58.19,485.99 L59.05,485.98 L59.74,485.83 L60.61,485.75 L61.55,485.19 L62.49,484.93 L63.44,484.97 L64.38,484.52 L65.3,484.14 L66.25,483.85 L67.29,483.65 L67.99,483.08 L68.83,482.92 L69.47,482.38 L70.16,482.2 L70.93,482 L71.69,481.54 L72.28,481.28 L72.99,480.78 L73.88,480.66 L74.53,480.01 L75.12,479.56 L75.96,479.36 L76.63,478.79 L77.32,478.29 L78.14,477.67 L78.74,476.99 L79.36,476.4 L79.97,475.66 L80.59,475.14 L81.15,474.54 L81.46,474.04 L81.94,473.4 L82.49,472.95 L82.89,472.23 L83.36,471.51 L83.75,470.95 L84.12,470.04 L84.53,469.53 L84.82,468.89 L85.31,467.84 L85.81,467.13 L86.09,466.64 L86.51,465.83 L86.88,465.09 L87.37,464.02 L87.54,463.25 L88.04,462.66 L88.31,461.9 L88.82,461.12 L88.98,460.21 L89.42,459.47 L89.75,458.43 L90.08,457.97 L90.56,457 L90.75,456.34 L91.11,455.43 L91.46,454.76 L91.64,454.04 L92.09,453.35 L92.22,452.42 L92.68,451.61 L92.83,450.73 L93.21,450.1 L93.4,449.34 L93.63,448.49 L94,447.41 L94.3,446.67 L94.42,445.89 L94.59,445.29 L94.9,444.53 L95.14,443.35 L95.35,442.59 L95.65,441.95 L95.97,441.04 L95.97,440.25 L96.16,439.54 L96.4,439.03 L96.71,437.95 L96.78,437.36 L96.99,436.7 L97.25,435.86 L97.39,435.25 L97.72,434.7 L97.88,433.75 L98.09,432.68 L98.41,431.77 L98.6,431.18 L98.76,430.14 L98.95,429.3 L98.96,428.78 L99.31,427.67 L99.4,427.12 L99.54,426.48 L99.54,425.44 L99.82,424.79 L99.79,424.18 L100.05,423.16 L100,422.65 L100.16,421.6 L100.28,420.77 L100.45,419.99 L100.77,419.07 L100.88,418.31 L100.86,417.72 L100.99,416.75 L101.16,415.87 L101.28,414.97 L101.31,414.26 L101.45,413.59 L101.67,412.6 L101.75,411.79 L101.82,410.84 L101.85,410.11 L102.14,409.21 L102.17,408.35 L102.35,407.65 L102.41,406.73 L102.52,406.17 L102.72,405.19 L102.74,404.54 L102.89,403.44 L103.07,402.68 L102.99,401.61 L103.2,400.74 L103.29,399.99 L103.54,399.15 L103.69,398.01 L103.63,397.21 L103.88,396.43 L103.87,396.01 L104.17,395.13 L104.14,394.51 L104.44,393.72 L104.5,393.25 L104.7,392.12 L105.19,391.15 L105.38,390.22 L105.68,389.72 L106.22,388.92 L106.53,388.32 L106.92,388.05 L107.2,387.38 L107.85,386.53 L108.42,385.73 L109.06,384.85 L109.67,384.38 L110.29,383.95 L110.78,383.89 L111.16,383.75 L111.59,383.52 L112.01,383.79 L112.6,384.79 L113,387.49 L113.16,387.8 L113.15,388.34 L113.33,388.84 L113.32,389.25 L113.45,389.88 L113.51,390.52 L113.58,391.25 L113.66,392.31 L113.89,392.82 L113.85,393.52 L114.05,394.41 L114.06,395.14 L114.17,395.92 L114.35,396.91 L114.44,397.75 L114.49,398.83 L114.71,399.7 L114.81,400.69 L114.89,401.49 L115.06,402.31 L115.03,403.15 L115.17,404.05 L115.31,405.29 L115.47,405.86 L115.41,406.79 L115.47,407.87 L115.73,408.9 L115.82,409.86 L115.81,410.53 L116,411.35 L115.99,412.41 L116.19,413.11 L116.3,413.81 L116.3,414.61 L116.53,415.35 L116.45,416.02 L116.6,417.13 L116.7,417.86 L116.8,418.82 L116.8,419.66 L116.93,420.6 L117.01,421.48 L117.08,422.33 L117.33,423.05 L117.38,423.72 L117.26,424.62 L117.43,425.42 L117.61,426 L117.72,427.03 L117.65,427.58 L117.72,428.53 L117.8,429.12 L117.91,430.01 L117.96,430.77 L118.1,431.56 L118.12,432.22 L118.27,433.22 L118.37,433.97 L118.43,434.61 L118.38,435.5 L118.49,436.27 L118.49,436.96 L118.6,437.81 L118.73,438.48 L118.91,439.4 L118.92,440.25 L118.97,440.82 L119,441.76 L119.08,442.69 L119.32,443.35 L119.26,444.04 L119.47,445.15 L119.49,445.78 L119.43,446.65 L119.7,447.61 L119.62,448.43 L119.85,449.11 L119.94,450.05 L119.98,450.55 L119.93,451.48 L120,452.36 L120.16,453.09 L120.21,453.93 L120.34,454.77 L120.35,455.43 L120.38,456.29 L120.67,457.15 L120.74,457.82 L120.72,458.64 L120.79,459.56 L120.98,460.2 L120.94,460.77 L121.03,461.6 L121.15,462.42 L121.29,463.23 L121.34,464.4 L121.43,465.19 L121.47,465.89 L121.48,466.96 L121.57,467.98 L121.58,468.98 L121.74,469.63 L121.73,470.48 L121.84,471.58 L122.02,472.23 L122.07,473.37 L122.07,474.12 L122.26,475.05 L122.28,475.8 L122.35,476.33 L122.47,477.13 L122.45,477.75 L122.52,478.59 L122.71,479.07 L122.87,479.79 L122.91,480.57 L122.98,480.96 L123.39,482.55 L123.88,483.73 L124.35,484.17 L124.77,484.86 L125.49,485.28 L125.95,485.5 L126.76,485.91 L127.75,486.45 L128.61,486.59 L129.35,486.73 L130,486.9 Z" fill="#a6042b" stroke="#2a0510" stroke-width="1.2" stroke-linejoin="round"/>
<path d="M50.08,486.81 L50.58,486.5 L50.86,486.42 L51.47,486.52 L52.14,486.39 L52.96,486.12 L53.69,486.62 L54.16,486.33 L55.15,486.15 L55.92,486.14 L56.68,485.99 L57.42,485.32 L58.29,485.86 L58.98,485.12 L59.97,485.56 L60.31,485.07 L60.89,485.21 L61.93,485 L62.54,484.56 L63.63,484.62 L64.32,484.32 L64.73,483.98 L65.3,483.99 L66.06,484.2 L66.74,483.32 L67.26,483.2 L67.93,483.42 L68.79,482.79 L69.47,482.52 L69.76,482.07 L70.64,482.44 L71.37,481.82 L72.06,481.32 L72.7,480.97 L73.35,480.78 L73.93,480.75 L74.4,479.82 L74.98,479.99 L75.61,479.1 L76.04,478.65 L76.6,478.57 L77.29,478.04 L77.87,477.9 L78.53,477.2 L79.01,476.54 L79.53,476.05 L80.32,475.92 L80.83,475.42 L81.08,474.32 L81.48,474.06 L82.03,473.63 L82.42,472.79 L82.92,472.29 L83.31,472.36 L83.87,471.67 L84,471.18 L84.51,470.37 L84.9,469.68 L85.26,468.69 L85.9,468.04 L85.94,467.89 L86.66,467.1 L86.87,466.5 L87.06,465.79 L87.22,465.06 L87.57,464.39 L87.92,463.82 L88.46,463.06 L88.49,462.32 L88.75,462.04 L89.1,460.8 L89.47,460.3 L89.54,459.59 L89.92,459 L89.94,458.02 L90.26,457.76 L90.75,457.18 L90.68,456.21 L90.9,455.33 L91.36,454.87 L91.51,454.28 L91.95,453.71 L92.01,452.86 L92.23,452.32 L92.6,450.97 L92.59,450.32 L93,449.81 L93.07,449.28 L93.41,448.85 L93.42,447.92 L93.8,446.95 L94.01,446.61 L94.22,445.74 L94.13,444.86 L94.52,444.83 L94.54,443.67 L94.9,442.93 L95.13,442.53 L95.15,441.64 L95.75,440.93 L95.84,440.57 L95.99,439.82 L96.13,438.79 L96.28,438.34 L96.63,437.7 L96.9,437.03 L97.16,436.55 L97.4,435.83 L97.58,434.58 L97.6,434.24 L98.09,433.66 L98.11,433.05 L97.98,432.49 L98.28,431.65 L98.42,430.73 L98.7,429.96 L98.71,429.31 L99.11,428.61 L99.06,428 L99.1,427.14 L99.12,426.69 L99.53,426.29 L99.58,424.96 L99.71,424.28 L99.75,423.99 L100,423.29 L100.34,422.39 L100.37,421.32 L100.4,421.09 L100.63,419.95 L100.42,419.43 L100.58,419.05 L100.7,418.23 L100.95,417.31 L101.08,416.46 L101.08,416.23 L101.44,415.23 L101.52,414.16 L101.52,413.96 L101.46,412.6 L101.67,411.99 L101.94,411.23 L101.68,411.03 L101.93,410.2 L102.03,409.27 L102.15,408.45 L102.16,407.91 L102.28,406.98 L102.48,406.28 L102.62,405.88 L102.66,405.31 L102.67,404.41 L102.95,403.46 L103.01,403.19 L102.98,402.08 L103.28,401.29 L103.3,400.47 L103.25,399.4 L103.63,398.97 L103.57,398.05 L103.51,397.36 L103.85,396.64 L103.86,396.02 L104.03,395.48 L104.19,394.92 L104.29,394.51 L104.53,393.7 L104.51,393.06 L104.83,391.89 L105.26,391.4 L105.3,390.28 L105.87,390.07 L105.98,389.38 L106.45,388.99 L106.88,388.42 L107.04,387.83 L107.14,387.41 L108.36,386.56 L108.86,386.08 L109.28,385.27 L109.64,384.25 L109.99,385.8 L110.13,384.88 L110.45,383.49 L110.82,383 L111.11,384.16 L111.23,384.87 L111.92,384.52 L112.05,384.7 L112.21,384.98 L112.37,387.18 L112.52,387.41 L112.55,387.67 L112.47,388.1 L112.61,388.87 L112.82,389.4 L112.86,389.93 L112.67,390.88 L112.95,391.23 L112.98,392.12 L112.86,393.03 L113.28,393.28 L113.2,394.12 L113.07,394.87 L113.41,396.02 L113.21,396.44 L113.37,397.58 L113.44,398.38 L113.47,399.35 L113.59,399.7 L113.91,400.72 L113.89,401.18 L113.91,402.54 L114.13,403.19 L114.28,403.68 L114.19,404.81 L114.11,405.06 L114.37,406.19 L114.38,406.63 L114.36,406.96 L114.73,407.69 L114.61,409 L114.76,409.48 L115,410.44 L115.06,410.56 L114.9,411.62 L114.84,412.46 L115.27,413.2 L115.1,413.42 L115.46,414.77 L115.55,415.25 L115.4,415.61 L115.33,416.88 L115.46,417.25 L115.89,418.17 L115.91,418.83 L115.82,419.27 L116.13,420.63 L115.87,420.87 L116.28,421.61 L116.08,422.24 L116.24,423.1 L116.35,424.16 L116.41,424.89 L116.44,425.63 L116.53,426.19 L116.52,426.77 L116.67,427.79 L116.88,428.56 L117.06,428.68 L117.02,429.91 L117.2,430.21 L117.31,430.93 L117.04,432.04 L117.5,432.37 L117.26,433.4 L117.62,433.84 L117.38,434.26 L117.56,435.45 L117.65,436.11 L117.84,436.72 L117.69,437.59 L118.13,438.2 L117.83,439.18 L117.96,439.59 L118.07,440.64 L118.2,441.3 L118.15,442.04 L118.44,442.5 L118.4,443.15 L118.39,444.18 L118.8,444.93 L118.78,445.67 L118.79,446.14 L118.77,446.69 L118.75,447.57 L119.08,447.9 L119.17,449.28 L118.99,449.37 L119.26,450.08 L119.28,451.29 L119.55,451.53 L119.3,452.78 L119.69,453.58 L119.61,453.93 L119.59,454.47 L119.91,455.36 L119.69,456.48 L119.71,457.23 L119.9,457.5 L120.19,458.78 L119.99,459.15 L120.11,459.99 L120.21,460.89 L120.2,461.3 L120.18,462.24 L120.3,462.68 L120.31,463.39 L120.62,464.31 L120.82,464.82 L120.7,465.49 L120.83,466.38 L120.65,467.22 L120.72,467.24 L120.92,467.86 L121.15,468.76 L121.14,469.55 L121.18,470.24 L121.18,470.91 L121.23,471.88 L121.37,472.92 L121.48,473.99 L121.53,474.65 L121.68,475.06 L121.98,476.04 L121.67,476.52 L122.09,477.17 L122.21,477.85 L122.28,478.59 L122.37,479.35 L122.23,480.04 L122.34,480.32 L122.67,481.19 L122.75,481.77 L122.78,482.23 L122.7,482.82 L123.09,483.26 L123.36,484.24 L124.07,484.87 L124.76,486.01 L125.45,485.93 L126.23,486.58 L126.61,486.39 L127,486.9 Z" fill="#2d4b7c" stroke="#111" stroke-width="1.2" stroke-linejoin="round"/>
<rect x="40.7" y="374.2" width="114" height="112.7" fill="none" stroke="#111" stroke-width="1.3"/>
<text x="189.5" y="360.7" font-size="11.5" text-anchor="start" font-weight="bold" fill="#111">H</text>
<line x1="219.1" y1="487.2" x2="221.7" y2="487.2" stroke="#111" stroke-width="1"/>
<text x="215.7" y="489.8" font-size="7.5" text-anchor="end" fill="#222">0</text>
<line x1="220.2" y1="481.56" x2="221.7" y2="481.56" stroke="#111" stroke-width="1"/>
<line x1="220.2" y1="475.91" x2="221.7" y2="475.91" stroke="#111" stroke-width="1"/>
<line x1="220.2" y1="470.26" x2="221.7" y2="470.26" stroke="#111" stroke-width="1"/>
<line x1="219.1" y1="464.62" x2="221.7" y2="464.62" stroke="#111" stroke-width="1"/>
<text x="215.7" y="467.22" font-size="7.5" text-anchor="end" fill="#222">20</text>
<line x1="220.2" y1="458.98" x2="221.7" y2="458.98" stroke="#111" stroke-width="1"/>
<line x1="220.2" y1="453.33" x2="221.7" y2="453.33" stroke="#111" stroke-width="1"/>
<line x1="220.2" y1="447.69" x2="221.7" y2="447.69" stroke="#111" stroke-width="1"/>
<line x1="219.1" y1="442.04" x2="221.7" y2="442.04" stroke="#111" stroke-width="1"/>
<text x="215.7" y="444.64" font-size="7.5" text-anchor="end" fill="#222">40</text>
<line x1="220.2" y1="436.39" x2="221.7" y2="436.39" stroke="#111" stroke-width="1"/>
<line x1="220.2" y1="430.75" x2="221.7" y2="430.75" stroke="#111" stroke-width="1"/>
<line x1="220.2" y1="425.11" x2="221.7" y2="425.11" stroke="#111" stroke-width="1"/>
<line x1="219.1" y1="419.46" x2="221.7" y2="419.46" stroke="#111" stroke-width="1"/>
<text x="215.7" y="422.06" font-size="7.5" text-anchor="end" fill="#222">60</text>
<line x1="220.2" y1="413.81" x2="221.7" y2="413.81" stroke="#111" stroke-width="1"/>
<line x1="220.2" y1="408.17" x2="221.7" y2="408.17" stroke="#111" stroke-width="1"/>
<line x1="220.2" y1="402.52" x2="221.7" y2="402.52" stroke="#111" stroke-width="1"/>
<line x1="219.1" y1="396.88" x2="221.7" y2="396.88" stroke="#111" stroke-width="1"/>
<text x="215.7" y="399.48" font-size="7.5" text-anchor="end" fill="#222">80</text>
<line x1="220.2" y1="391.24" x2="221.7" y2="391.24" stroke="#111" stroke-width="1"/>
<line x1="220.2" y1="385.59" x2="221.7" y2="385.59" stroke="#111" stroke-width="1"/>
<line x1="220.2" y1="379.94" x2="221.7" y2="379.94" stroke="#111" stroke-width="1"/>
<line x1="219.1" y1="374.3" x2="221.7" y2="374.3" stroke="#111" stroke-width="1"/>
<text x="215.7" y="376.9" font-size="7.5" text-anchor="end" fill="#222">100</text>
<text x="197.8" y="430.75" font-size="8.8" text-anchor="middle" fill="#222" transform="rotate(-90 197.8 430.75)">Percent of maximum</text>
<text x="277.35" y="369.1" font-size="9.5" text-anchor="middle" fill="#222">Blood</text>
<line x1="222.5" y1="487.2" x2="222.5" y2="489.8" stroke="#111" stroke-width="0.9"/>
<line x1="230.21" y1="487.2" x2="230.21" y2="488.8" stroke="#111" stroke-width="0.9"/>
<line x1="234.71" y1="487.2" x2="234.71" y2="488.8" stroke="#111" stroke-width="0.9"/>
<line x1="237.91" y1="487.2" x2="237.91" y2="488.8" stroke="#111" stroke-width="0.9"/>
<line x1="240.39" y1="487.2" x2="240.39" y2="488.8" stroke="#111" stroke-width="0.9"/>
<line x1="242.42" y1="487.2" x2="242.42" y2="488.8" stroke="#111" stroke-width="0.9"/>
<line x1="244.13" y1="487.2" x2="244.13" y2="488.8" stroke="#111" stroke-width="0.9"/>
<line x1="245.62" y1="487.2" x2="245.62" y2="488.8" stroke="#111" stroke-width="0.9"/>
<line x1="246.93" y1="487.2" x2="246.93" y2="488.8" stroke="#111" stroke-width="0.9"/>
<text x="220.9" y="501.2" font-size="7" text-anchor="middle" fill="#222">10</text>
<text x="226.1" y="498" font-size="5" text-anchor="middle" fill="#222">0</text>
<line x1="248.1" y1="487.2" x2="248.1" y2="489.8" stroke="#111" stroke-width="0.9"/>
<line x1="255.81" y1="487.2" x2="255.81" y2="488.8" stroke="#111" stroke-width="0.9"/>
<line x1="260.31" y1="487.2" x2="260.31" y2="488.8" stroke="#111" stroke-width="0.9"/>
<line x1="263.51" y1="487.2" x2="263.51" y2="488.8" stroke="#111" stroke-width="0.9"/>
<line x1="265.99" y1="487.2" x2="265.99" y2="488.8" stroke="#111" stroke-width="0.9"/>
<line x1="268.02" y1="487.2" x2="268.02" y2="488.8" stroke="#111" stroke-width="0.9"/>
<line x1="269.73" y1="487.2" x2="269.73" y2="488.8" stroke="#111" stroke-width="0.9"/>
<line x1="271.22" y1="487.2" x2="271.22" y2="488.8" stroke="#111" stroke-width="0.9"/>
<line x1="272.53" y1="487.2" x2="272.53" y2="488.8" stroke="#111" stroke-width="0.9"/>
<text x="246.5" y="501.2" font-size="7" text-anchor="middle" fill="#222">10</text>
<text x="251.7" y="498" font-size="5" text-anchor="middle" fill="#222">1</text>
<line x1="273.7" y1="487.2" x2="273.7" y2="489.8" stroke="#111" stroke-width="0.9"/>
<line x1="281.41" y1="487.2" x2="281.41" y2="488.8" stroke="#111" stroke-width="0.9"/>
<line x1="285.91" y1="487.2" x2="285.91" y2="488.8" stroke="#111" stroke-width="0.9"/>
<line x1="289.11" y1="487.2" x2="289.11" y2="488.8" stroke="#111" stroke-width="0.9"/>
<line x1="291.59" y1="487.2" x2="291.59" y2="488.8" stroke="#111" stroke-width="0.9"/>
<line x1="293.62" y1="487.2" x2="293.62" y2="488.8" stroke="#111" stroke-width="0.9"/>
<line x1="295.33" y1="487.2" x2="295.33" y2="488.8" stroke="#111" stroke-width="0.9"/>
<line x1="296.82" y1="487.2" x2="296.82" y2="488.8" stroke="#111" stroke-width="0.9"/>
<line x1="298.13" y1="487.2" x2="298.13" y2="488.8" stroke="#111" stroke-width="0.9"/>
<text x="272.1" y="501.2" font-size="7" text-anchor="middle" fill="#222">10</text>
<text x="277.3" y="498" font-size="5" text-anchor="middle" fill="#222">2</text>
<line x1="299.3" y1="487.2" x2="299.3" y2="489.8" stroke="#111" stroke-width="0.9"/>
<line x1="307.01" y1="487.2" x2="307.01" y2="488.8" stroke="#111" stroke-width="0.9"/>
<line x1="311.51" y1="487.2" x2="311.51" y2="488.8" stroke="#111" stroke-width="0.9"/>
<line x1="314.71" y1="487.2" x2="314.71" y2="488.8" stroke="#111" stroke-width="0.9"/>
<line x1="317.19" y1="487.2" x2="317.19" y2="488.8" stroke="#111" stroke-width="0.9"/>
<line x1="319.22" y1="487.2" x2="319.22" y2="488.8" stroke="#111" stroke-width="0.9"/>
<line x1="320.93" y1="487.2" x2="320.93" y2="488.8" stroke="#111" stroke-width="0.9"/>
<line x1="322.42" y1="487.2" x2="322.42" y2="488.8" stroke="#111" stroke-width="0.9"/>
<line x1="323.73" y1="487.2" x2="323.73" y2="488.8" stroke="#111" stroke-width="0.9"/>
<text x="297.7" y="501.2" font-size="7" text-anchor="middle" fill="#222">10</text>
<text x="302.9" y="498" font-size="5" text-anchor="middle" fill="#222">3</text>
<line x1="324.9" y1="487.2" x2="324.9" y2="489.8" stroke="#111" stroke-width="0.9"/>
<text x="323.3" y="501.2" font-size="7" text-anchor="middle" fill="#222">10</text>
<text x="328.5" y="498" font-size="5" text-anchor="middle" fill="#222">4</text>
<path d="M221.67,487.07 L221.64,486.64 L221.74,485.78 L221.72,484.9 L221.6,483.87 L221.71,482.83 L221.59,481.73 L221.63,480.86 L221.61,480.01 L221.7,478.97 L221.7,478.47 L222.58,477.31 L222.79,477.06 L223.18,476.45 L223.64,476.08 L224.17,475.3 L224.78,474.66 L225.35,473.89 L225.88,473.26 L226.49,472.56 L227.18,471.62 L227.42,470.97 L227.85,470.37 L228.43,469.73 L228.74,469.29 L229.22,468.59 L229.66,467.87 L230.24,467.17 L230.63,466.59 L231.09,465.96 L231.58,465.06 L231.97,464.24 L232.38,463.42 L232.84,462.42 L233.12,461.78 L233.42,461.14 L233.7,460.51 L234.03,459.63 L234.33,459 L234.48,458.32 L234.76,457.55 L235.14,456.86 L235.38,455.97 L235.65,455.01 L235.9,454.27 L236.2,453.65 L236.47,452.69 L236.71,451.96 L236.99,451.17 L237.31,450.14 L237.51,449.33 L237.76,448.66 L238.01,447.71 L238.33,446.84 L238.51,446.22 L238.82,445.41 L239.17,444.81 L239.36,443.93 L239.57,443.01 L239.86,442.51 L240.07,441.7 L240.27,441.01 L240.51,440.03 L240.78,439.3 L240.99,438.53 L241.17,437.9 L241.36,437.01 L241.67,436.34 L241.83,435.62 L241.99,434.94 L242.21,434.05 L242.38,433.2 L242.54,432.39 L242.76,431.76 L242.98,430.92 L243.12,429.95 L243.32,429.24 L243.6,428.42 L243.64,427.79 L243.96,426.91 L244.11,426.13 L244.22,425.27 L244.33,424.21 L244.53,423.58 L244.74,422.64 L244.82,421.76 L245.09,420.87 L245.21,420.08 L245.29,419.3 L245.47,418.38 L245.63,417.59 L245.75,416.68 L245.86,416.04 L246.09,415.17 L246.19,414.47 L246.34,413.56 L246.37,413.03 L246.64,412.17 L246.75,411.59 L246.97,410.43 L247.04,409.61 L247.28,408.72 L247.53,407.71 L247.58,406.81 L247.84,406.25 L248.01,405.27 L248.05,404.49 L248.16,403.94 L248.36,403.06 L248.51,402.36 L248.67,401.52 L248.87,400.79 L248.92,399.88 L249.19,399.25 L249.36,398.37 L249.43,397.31 L249.66,396.69 L249.87,395.64 L250.08,394.72 L250.11,393.99 L250.32,393.15 L250.42,392.17 L250.65,391.32 L250.89,390.61 L250.99,389.83 L251.19,389.27 L251.37,388.55 L251.65,387.47 L251.83,386.48 L252.22,385.56 L252.45,384.75 L252.76,383.79 L253.08,383.33 L253.27,382.62 L253.44,381.92 L253.88,380.85 L254.29,379.93 L254.89,379.37 L255.95,378.98 L257.02,379.27 L258.05,379.18 L258.98,379.5 L259.64,379.97 L260.06,380.34 L260.57,381.53 L260.73,382.07 L260.92,382.68 L261.11,383.39 L261.26,384.16 L261.42,384.91 L261.53,385.85 L261.81,386.84 L262.03,387.72 L262.19,388.92 L262.38,389.98 L262.4,390.58 L262.46,391.35 L262.67,392.04 L262.73,392.64 L262.79,393.43 L262.88,394.37 L263.03,395.2 L263.03,395.77 L263.21,396.81 L263.19,397.59 L263.34,398.34 L263.5,399.31 L263.58,400.1 L263.63,401.09 L263.69,402.04 L263.78,402.9 L263.91,403.79 L264.06,404.55 L264.12,405.33 L264.06,406.15 L264.16,406.88 L264.19,407.63 L264.34,408.58 L264.38,409.43 L264.54,410.06 L264.6,411.1 L264.56,411.85 L264.59,412.84 L264.66,413.57 L264.86,414.34 L264.85,415.37 L264.91,415.98 L265.03,417.08 L264.98,417.67 L265,418.65 L265.15,419.46 L265.24,420.26 L265.2,421.31 L265.34,422 L265.36,422.73 L265.47,423.68 L265.53,424.52 L265.44,425.39 L265.55,426.24 L265.6,427.01 L265.63,427.86 L265.76,428.65 L265.72,429.42 L265.69,430.3 L265.82,431.05 L265.88,432.15 L265.84,432.75 L266.04,433.59 L266.07,434.42 L265.98,435.33 L266.09,436.23 L266.22,436.77 L266.12,437.75 L266.24,438.48 L266.32,439.22 L266.39,440.27 L266.5,440.94 L266.42,441.92 L266.62,442.84 L266.69,443.68 L266.59,444.43 L266.76,445.38 L266.88,446.24 L266.79,446.97 L266.85,447.87 L266.98,448.54 L267.02,449.29 L267.06,450.27 L267.13,451.06 L267.33,451.71 L267.23,452.54 L267.38,453.45 L267.52,454.23 L267.51,454.94 L267.51,455.97 L267.6,456.78 L267.61,457.75 L267.8,458.38 L267.84,459.2 L267.9,460.12 L267.97,461.05 L267.93,461.98 L268.01,462.55 L268.09,463.37 L268.12,464.48 L268.15,465.13 L268.29,466.06 L268.45,466.83 L268.47,467.58 L268.6,468.39 L268.58,469.45 L268.63,470.27 L268.75,470.88 L268.81,471.85 L268.91,472.75 L269.09,473.67 L269.17,474.55 L269.26,475.65 L269.31,476.33 L269.43,477.22 L269.61,478.27 L269.59,479.03 L269.86,479.87 L269.9,480.6 L269.99,481.36 L270.02,482.15 L270.28,482.62 L270.38,483.08 L270.66,484.71 L271.15,485.83 L271.39,486.26 L271.74,486.68 L272,487.2 Z" fill="#67aa3c" stroke="#111" stroke-width="1.2" stroke-linejoin="round"/>
<path d="M267.47,487.21 L267.56,486.8 L267.82,486.04 L268.03,485.46 L268.3,484.81 L268.47,483.82 L268.87,482.96 L269.17,482.35 L269.44,481.3 L269.59,480.45 L269.98,479.44 L270.21,478.76 L270.36,477.97 L270.64,477.09 L270.87,476.39 L271.11,475.66 L271.34,474.83 L271.44,474.15 L271.56,473.44 L271.74,472.61 L271.95,471.91 L272.22,471.04 L272.35,470.11 L272.56,469.28 L272.71,468.79 L272.84,468.18 L272.9,467.26 L273.1,466.8 L273.11,466.06 L273.22,465.24 L273.39,464.51 L273.59,463.75 L273.67,462.94 L273.74,462.12 L273.89,461.17 L274.03,460.37 L274.1,459.23 L274.34,458.05 L274.43,456.77 L274.47,456.37 L274.47,455.6 L274.61,455.05 L274.62,454.22 L274.63,453.72 L274.79,453.03 L274.91,452.1 L274.92,451.4 L274.9,450.68 L274.96,449.87 L275.17,449.2 L275.1,448.2 L275.23,447.51 L275.31,446.68 L275.28,446.02 L275.4,444.93 L275.52,444.23 L275.6,443.33 L275.66,442.61 L275.74,441.56 L275.77,440.74 L275.69,439.93 L275.89,439.1 L275.93,438.1 L275.97,437.12 L275.98,436.23 L276.05,435.34 L276.12,434.57 L276.23,433.47 L276.32,432.74 L276.21,431.83 L276.43,430.78 L276.39,430.05 L276.37,429.35 L276.43,428.56 L276.59,427.52 L276.48,426.95 L276.69,426.07 L276.66,425.29 L276.75,424.42 L276.81,423.46 L276.72,422.48 L276.88,421.65 L276.82,420.68 L276.97,419.9 L277.01,419 L276.94,417.97 L276.94,417.07 L277.01,416.39 L277.07,415.35 L277.2,414.32 L277.22,413.6 L277.2,412.55 L277.26,411.86 L277.31,410.86 L277.32,410.14 L277.26,409.23 L277.38,408.33 L277.42,407.37 L277.46,406.52 L277.36,405.79 L277.53,404.97 L277.52,404.22 L277.47,403.48 L277.57,402.75 L277.57,402.12 L277.7,401.21 L277.59,400.76 L277.76,399.96 L277.7,399.38 L277.84,398.88 L277.72,398.35 L277.98,396.65 L278.01,395.35 L278.12,394.2 L278.23,393.03 L278.24,392.24 L278.24,391.54 L278.4,390.89 L278.46,390.48 L278.62,389.83 L278.67,389.32 L278.68,388.71 L278.76,388.13 L278.98,386.91 L279.06,385.94 L279.08,384.91 L279.21,383.87 L279.32,382.96 L279.4,382.02 L279.56,381.57 L279.73,380.96 L279.87,380.72 L279.99,381.02 L280.23,381.34 L280.26,382.24 L280.6,383.32 L280.8,384.67 L281.07,385.93 L281.09,386.64 L281.21,387.19 L281.37,387.56 L281.52,388.28 L281.68,388.85 L281.81,389.43 L281.83,389.97 L281.98,390.63 L282.14,391.4 L282.3,392.14 L282.4,393.22 L282.66,394.14 L282.77,395.43 L282.78,396.67 L283.04,397.94 L282.99,398.65 L283.15,399.18 L283.09,399.87 L283.23,400.49 L283.19,401.22 L283.41,401.83 L283.34,402.57 L283.52,403.18 L283.49,403.97 L283.55,404.68 L283.59,405.37 L283.74,406.41 L283.76,407.01 L283.74,408.05 L283.86,408.71 L283.94,409.54 L283.95,410.54 L284.12,411.43 L284.12,412.1 L284.18,412.95 L284.18,413.81 L284.29,414.91 L284.26,415.69 L284.39,416.7 L284.5,417.41 L284.52,418.45 L284.59,419.24 L284.55,420.03 L284.64,421.07 L284.62,421.83 L284.81,422.66 L284.84,423.47 L284.85,424.42 L285,425.24 L284.96,426.25 L285.02,427.01 L285.15,427.81 L285.13,428.44 L285.2,429.19 L285.26,429.92 L285.19,431.03 L285.22,431.84 L285.28,432.54 L285.46,433.58 L285.51,434.36 L285.43,435.36 L285.58,436.33 L285.56,437.16 L285.68,438.17 L285.67,438.85 L285.76,439.98 L285.81,440.61 L285.83,441.64 L285.88,442.43 L285.78,443.41 L285.78,444.19 L285.91,445.09 L285.94,445.8 L285.92,446.81 L285.97,447.5 L285.98,448.42 L286.1,449.26 L286.06,450.05 L286.1,450.63 L286.1,451.5 L286.28,452.04 L286.32,452.99 L286.24,453.64 L286.39,454.23 L286.32,454.88 L286.48,455.73 L286.4,456.2 L286.45,457.04 L286.67,458.1 L286.61,459 L286.7,460.15 L286.84,461.23 L286.96,462.1 L286.96,462.74 L287.08,463.62 L287.14,464.5 L287.24,465.03 L287.4,465.86 L287.41,466.49 L287.58,467.16 L287.65,467.87 L287.86,468.37 L288,468.92 L288.11,469.81 L288.16,470.38 L288.44,471.29 L288.74,472.17 L288.9,473.28 L289.26,474.13 L289.56,475 L289.83,475.55 L290.14,476.59 L290.31,477.31 L290.67,478.02 L290.89,478.6 L291.26,479.45 L291.48,479.9 L292.04,480.98 L292.35,482.03 L292.9,482.78 L293.28,483.64 L293.63,484.34 L294.1,484.81 L294.57,485.42 L295.44,486.41 L296.4,487.03 L297,487.2 Z" fill="#a6042b" stroke="#2a0510" stroke-width="1.2" stroke-linejoin="round"/>
<path d="M270.06,487.32 L270.22,486.94 L270.34,486.39 L270.63,485.89 L270.76,485.4 L270.94,484.92 L271.42,484.03 L271.64,483.43 L271.89,482.83 L272.23,482.06 L272.41,481.26 L272.8,480.84 L272.94,480.02 L273.08,479.32 L273.46,479.25 L273.56,478.6 L273.78,478.24 L273.97,477.84 L274.12,477.3 L274.35,477.03 L274.32,476.53 L274.57,476.23 L274.67,475.55 L274.98,475.08 L275.12,474.52 L275.26,473.66 L275.27,472.8 L275.44,471.93 L275.77,471.26 L275.75,470.02 L275.91,469.54 L275.88,469.2 L275.93,468.75 L275.89,468.4 L275.9,467.82 L276.12,467.37 L276.01,466.84 L276.08,466.2 L276.21,465.53 L276.31,464.92 L276.2,464.2 L276.37,463.61 L276.34,463.17 L276.3,462.48 L276.35,461.64 L276.39,461.13 L276.38,460.58 L276.38,459.73 L276.62,459.28 L276.48,458.35 L276.54,457.66 L276.7,457.11 L276.58,456.27 L276.57,455.86 L276.8,455.17 L276.64,454.42 L276.81,453.62 L276.71,452.91 L276.86,452.26 L276.75,451.59 L276.81,450.66 L276.88,450.24 L276.85,449.68 L276.82,448.95 L276.85,448.05 L277.09,447.6 L276.96,446.82 L276.96,446.1 L276.97,445.58 L277.06,445.07 L277.15,444.28 L277.1,443.86 L277.1,443.48 L277.08,442.92 L277.1,442.46 L277.33,441.93 L277.25,441.24 L277.34,440.9 L277.33,440.32 L277.18,439.97 L277.46,438.93 L277.39,437.91 L277.58,437.19 L277.58,436.62 L277.43,436.18 L277.69,435.72 L277.54,435.37 L277.75,435.03 L277.61,434.65 L277.75,434.52 L277.7,433.87 L277.66,433.26 L277.85,432.96 L277.93,432.14 L277.96,431.07 L277.78,430.09 L277.98,429.58 L277.88,429.16 L277.94,428.88 L277.97,428.16 L277.94,427.64 L277.88,427.27 L277.94,426.52 L278.02,426.04 L278.14,425.39 L277.97,424.79 L278.05,424.45 L278.12,423.65 L278.06,422.93 L278.25,422.48 L278.21,421.81 L278.07,421.24 L278.27,420.56 L278.23,420.01 L278.27,419.18 L278.33,418.62 L278.39,417.94 L278.39,417.05 L278.42,416.45 L278.37,415.77 L278.34,415.1 L278.47,414.38 L278.41,413.47 L278.45,412.95 L278.4,412.33 L278.4,411.35 L278.53,411.01 L278.51,410.34 L278.48,409.65 L278.58,408.84 L278.46,408.1 L278.57,407.37 L278.55,406.79 L278.67,406.4 L278.63,405.46 L278.57,405.04 L278.57,404.34 L278.77,404 L278.77,403.3 L278.6,402.73 L278.7,402.42 L278.71,401.72 L278.67,401.5 L278.78,400.68 L278.67,400.53 L278.91,400 L278.77,398.81 L278.96,397.7 L278.94,396.81 L279.07,395.93 L279.07,395.32 L279.07,394.56 L279.11,393.89 L279.07,393.56 L279.2,392.96 L279.29,392.73 L279.35,392.32 L279.15,391.77 L279.26,391.41 L279.34,391.01 L279.49,390.69 L279.36,390.09 L279.38,389.16 L279.48,388.34 L279.51,387.81 L279.52,387.02 L279.69,386.28 L279.51,385.63 L279.67,385.09 L279.69,384.3 L279.67,384.05 L279.8,383.37 L279.9,383.04 L279.94,381.67 L280.25,380.94 L280.37,380.95 L280.3,381.46 L280.43,382.45 L280.7,383.08 L280.59,384.01 L280.84,384.35 L280.94,384.23 L281.04,383.2 L281.15,382.47 L281.48,381.84 L281.55,382.35 L281.68,382.75 L281.58,383.03 L281.65,383.87 L281.76,384.78 L281.89,386.12 L282.15,386.52 L282.09,386.64 L282.08,387.01 L282.17,387.4 L282.24,387.83 L282.3,388.5 L282.42,389.01 L282.35,389.43 L282.54,389.83 L282.6,390.45 L282.69,390.74 L282.72,391.38 L282.72,391.83 L282.87,392.76 L282.79,393.49 L282.93,394.18 L282.93,394.89 L282.98,396.15 L283.01,397.03 L283.1,397.89 L283.16,398.39 L283.37,398.66 L283.23,399.26 L283.24,399.64 L283.35,400.2 L283.42,400.6 L283.48,401.12 L283.49,401.68 L283.43,402.4 L283.58,403.02 L283.55,403.35 L283.73,403.97 L283.55,404.68 L283.7,405.29 L283.65,405.87 L283.88,406.28 L283.84,407.11 L283.79,407.58 L283.9,408.15 L283.93,408.81 L284.08,409.55 L284.09,410.2 L284.07,410.62 L284.01,411.37 L284.23,411.99 L284.17,412.94 L284.24,413.24 L284.25,413.93 L284.33,414.58 L284.3,415.32 L284.33,415.96 L284.52,416.84 L284.38,417.3 L284.47,418.11 L284.62,418.6 L284.57,419.46 L284.64,420.24 L284.69,420.78 L284.82,421.51 L284.76,421.92 L284.87,422.78 L284.72,423.48 L284.94,423.85 L285,424.55 L284.95,425.26 L284.86,425.82 L285.04,426.46 L284.98,426.97 L285.1,427.72 L285.02,428.33 L285.13,428.98 L285.09,429.63 L285.28,429.82 L285.18,430.84 L285.3,431.31 L285.34,432.06 L285.45,432.88 L285.26,433.17 L285.35,434.05 L285.43,434.58 L285.56,435.32 L285.57,436.25 L285.59,436.68 L285.41,437.39 L285.62,438.15 L285.61,438.61 L285.53,439.51 L285.7,440.01 L285.57,440.9 L285.63,441.38 L285.77,442.17 L285.72,442.59 L285.7,443.28 L285.66,444.08 L285.82,444.49 L285.79,445.24 L285.78,445.76 L285.93,446.49 L285.92,447.25 L285.92,447.73 L286.01,448.36 L286,449.03 L285.96,449.61 L285.95,450.07 L286.07,450.83 L286.11,451.1 L286.01,451.65 L285.94,452.17 L286.16,452.87 L286.02,453.31 L286.2,454.07 L286.24,454.65 L286.12,454.88 L286.27,455.4 L286.21,456.12 L286.34,456.63 L286.36,456.83 L286.45,457.74 L286.46,458.71 L286.45,459.48 L286.63,460.27 L286.65,460.84 L286.66,461.73 L286.69,462.27 L286.88,462.88 L286.75,463.43 L286.97,464.24 L286.92,464.55 L287.14,465.44 L287.09,465.89 L287.25,466.33 L287.26,467.04 L287.4,467.44 L287.4,467.99 L287.61,468.18 L287.64,468.84 L287.59,469.42 L287.79,469.7 L287.92,470.57 L288.02,471.25 L288.31,471.84 L288.4,472.43 L288.55,473.35 L288.81,473.7 L289.08,474.42 L289.29,475.08 L289.54,475.61 L289.65,476.49 L290.03,476.91 L290.06,477.29 L290.35,477.93 L290.47,478.51 L290.69,478.97 L290.96,479.49 L291.22,479.97 L291.59,480.58 L291.76,481.52 L292.29,482.11 L292.59,482.87 L292.87,483.1 L293.15,483.73 L293.47,484.23 L293.62,484.58 L293.9,485.13 L294.65,485.57 L295.17,486.11 L295.84,486.79 L296.3,486.99 L296.6,487.2 Z" fill="#2d4b7c" stroke="#111" stroke-width="1.2" stroke-linejoin="round"/>
<rect x="221.7" y="374.3" width="111.3" height="112.9" fill="none" stroke="#111" stroke-width="1.3"/>
<text x="351.3" y="360.7" font-size="11.5" text-anchor="start" font-weight="bold" fill="#111">I</text>
<line x1="379" y1="487.2" x2="381.6" y2="487.2" stroke="#111" stroke-width="1"/>
<text x="375.6" y="489.8" font-size="7.5" text-anchor="end" fill="#222">0</text>
<line x1="380.1" y1="481.52" x2="381.6" y2="481.52" stroke="#111" stroke-width="1"/>
<line x1="380.1" y1="475.85" x2="381.6" y2="475.85" stroke="#111" stroke-width="1"/>
<line x1="380.1" y1="470.18" x2="381.6" y2="470.18" stroke="#111" stroke-width="1"/>
<line x1="379" y1="464.5" x2="381.6" y2="464.5" stroke="#111" stroke-width="1"/>
<text x="375.6" y="467.1" font-size="7.5" text-anchor="end" fill="#222">20</text>
<line x1="380.1" y1="458.82" x2="381.6" y2="458.82" stroke="#111" stroke-width="1"/>
<line x1="380.1" y1="453.15" x2="381.6" y2="453.15" stroke="#111" stroke-width="1"/>
<line x1="380.1" y1="447.47" x2="381.6" y2="447.47" stroke="#111" stroke-width="1"/>
<line x1="379" y1="441.8" x2="381.6" y2="441.8" stroke="#111" stroke-width="1"/>
<text x="375.6" y="444.4" font-size="7.5" text-anchor="end" fill="#222">40</text>
<line x1="380.1" y1="436.12" x2="381.6" y2="436.12" stroke="#111" stroke-width="1"/>
<line x1="380.1" y1="430.45" x2="381.6" y2="430.45" stroke="#111" stroke-width="1"/>
<line x1="380.1" y1="424.77" x2="381.6" y2="424.77" stroke="#111" stroke-width="1"/>
<line x1="379" y1="419.1" x2="381.6" y2="419.1" stroke="#111" stroke-width="1"/>
<text x="375.6" y="421.7" font-size="7.5" text-anchor="end" fill="#222">60</text>
<line x1="380.1" y1="413.42" x2="381.6" y2="413.42" stroke="#111" stroke-width="1"/>
<line x1="380.1" y1="407.75" x2="381.6" y2="407.75" stroke="#111" stroke-width="1"/>
<line x1="380.1" y1="402.07" x2="381.6" y2="402.07" stroke="#111" stroke-width="1"/>
<line x1="379" y1="396.4" x2="381.6" y2="396.4" stroke="#111" stroke-width="1"/>
<text x="375.6" y="399" font-size="7.5" text-anchor="end" fill="#222">80</text>
<line x1="380.1" y1="390.73" x2="381.6" y2="390.73" stroke="#111" stroke-width="1"/>
<line x1="380.1" y1="385.05" x2="381.6" y2="385.05" stroke="#111" stroke-width="1"/>
<line x1="380.1" y1="379.38" x2="381.6" y2="379.38" stroke="#111" stroke-width="1"/>
<line x1="379" y1="373.7" x2="381.6" y2="373.7" stroke="#111" stroke-width="1"/>
<text x="375.6" y="376.3" font-size="7.5" text-anchor="end" fill="#222">100</text>
<text x="356.8" y="430.45" font-size="8.8" text-anchor="middle" fill="#222" transform="rotate(-90 356.8 430.45)">Percent of maximum</text>
<text x="438.75" y="368.5" font-size="9.5" text-anchor="middle" fill="#222">Spleen</text>
<line x1="382.4" y1="487.2" x2="382.4" y2="489.8" stroke="#111" stroke-width="0.9"/>
<line x1="390.11" y1="487.2" x2="390.11" y2="488.8" stroke="#111" stroke-width="0.9"/>
<line x1="394.61" y1="487.2" x2="394.61" y2="488.8" stroke="#111" stroke-width="0.9"/>
<line x1="397.81" y1="487.2" x2="397.81" y2="488.8" stroke="#111" stroke-width="0.9"/>
<line x1="400.29" y1="487.2" x2="400.29" y2="488.8" stroke="#111" stroke-width="0.9"/>
<line x1="402.32" y1="487.2" x2="402.32" y2="488.8" stroke="#111" stroke-width="0.9"/>
<line x1="404.03" y1="487.2" x2="404.03" y2="488.8" stroke="#111" stroke-width="0.9"/>
<line x1="405.52" y1="487.2" x2="405.52" y2="488.8" stroke="#111" stroke-width="0.9"/>
<line x1="406.83" y1="487.2" x2="406.83" y2="488.8" stroke="#111" stroke-width="0.9"/>
<text x="380.8" y="501.2" font-size="7" text-anchor="middle" fill="#222">10</text>
<text x="386" y="498" font-size="5" text-anchor="middle" fill="#222">0</text>
<line x1="408" y1="487.2" x2="408" y2="489.8" stroke="#111" stroke-width="0.9"/>
<line x1="415.71" y1="487.2" x2="415.71" y2="488.8" stroke="#111" stroke-width="0.9"/>
<line x1="420.21" y1="487.2" x2="420.21" y2="488.8" stroke="#111" stroke-width="0.9"/>
<line x1="423.41" y1="487.2" x2="423.41" y2="488.8" stroke="#111" stroke-width="0.9"/>
<line x1="425.89" y1="487.2" x2="425.89" y2="488.8" stroke="#111" stroke-width="0.9"/>
<line x1="427.92" y1="487.2" x2="427.92" y2="488.8" stroke="#111" stroke-width="0.9"/>
<line x1="429.63" y1="487.2" x2="429.63" y2="488.8" stroke="#111" stroke-width="0.9"/>
<line x1="431.12" y1="487.2" x2="431.12" y2="488.8" stroke="#111" stroke-width="0.9"/>
<line x1="432.43" y1="487.2" x2="432.43" y2="488.8" stroke="#111" stroke-width="0.9"/>
<text x="406.4" y="501.2" font-size="7" text-anchor="middle" fill="#222">10</text>
<text x="411.6" y="498" font-size="5" text-anchor="middle" fill="#222">1</text>
<line x1="433.6" y1="487.2" x2="433.6" y2="489.8" stroke="#111" stroke-width="0.9"/>
<line x1="441.31" y1="487.2" x2="441.31" y2="488.8" stroke="#111" stroke-width="0.9"/>
<line x1="445.81" y1="487.2" x2="445.81" y2="488.8" stroke="#111" stroke-width="0.9"/>
<line x1="449.01" y1="487.2" x2="449.01" y2="488.8" stroke="#111" stroke-width="0.9"/>
<line x1="451.49" y1="487.2" x2="451.49" y2="488.8" stroke="#111" stroke-width="0.9"/>
<line x1="453.52" y1="487.2" x2="453.52" y2="488.8" stroke="#111" stroke-width="0.9"/>
<line x1="455.23" y1="487.2" x2="455.23" y2="488.8" stroke="#111" stroke-width="0.9"/>
<line x1="456.72" y1="487.2" x2="456.72" y2="488.8" stroke="#111" stroke-width="0.9"/>
<line x1="458.03" y1="487.2" x2="458.03" y2="488.8" stroke="#111" stroke-width="0.9"/>
<text x="432" y="501.2" font-size="7" text-anchor="middle" fill="#222">10</text>
<text x="437.2" y="498" font-size="5" text-anchor="middle" fill="#222">2</text>
<line x1="459.2" y1="487.2" x2="459.2" y2="489.8" stroke="#111" stroke-width="0.9"/>
<line x1="466.91" y1="487.2" x2="466.91" y2="488.8" stroke="#111" stroke-width="0.9"/>
<line x1="471.41" y1="487.2" x2="471.41" y2="488.8" stroke="#111" stroke-width="0.9"/>
<line x1="474.61" y1="487.2" x2="474.61" y2="488.8" stroke="#111" stroke-width="0.9"/>
<line x1="477.09" y1="487.2" x2="477.09" y2="488.8" stroke="#111" stroke-width="0.9"/>
<line x1="479.12" y1="487.2" x2="479.12" y2="488.8" stroke="#111" stroke-width="0.9"/>
<line x1="480.83" y1="487.2" x2="480.83" y2="488.8" stroke="#111" stroke-width="0.9"/>
<line x1="482.32" y1="487.2" x2="482.32" y2="488.8" stroke="#111" stroke-width="0.9"/>
<line x1="483.63" y1="487.2" x2="483.63" y2="488.8" stroke="#111" stroke-width="0.9"/>
<text x="457.6" y="501.2" font-size="7" text-anchor="middle" fill="#222">10</text>
<text x="462.8" y="498" font-size="5" text-anchor="middle" fill="#222">3</text>
<line x1="484.8" y1="487.2" x2="484.8" y2="489.8" stroke="#111" stroke-width="0.9"/>
<line x1="492.51" y1="487.2" x2="492.51" y2="488.8" stroke="#111" stroke-width="0.9"/>
<text x="483.2" y="501.2" font-size="7" text-anchor="middle" fill="#222">10</text>
<text x="488.4" y="498" font-size="5" text-anchor="middle" fill="#222">4</text>
<path d="M382.05,487.09 L382.32,487.13 L383.07,486.45 L384.06,485.88 L384.84,485.81 L385.68,485.35 L386.59,484.88 L387.25,484.9 L388.15,484.62 L389.4,484.56 L390,484.23 L391.17,484.2 L391.97,483.67 L392.8,483.22 L393.34,483.35 L394.15,482.65 L394.8,482.12 L395.48,481.89 L396.25,481.63 L397.19,481.21 L397.59,480.97 L398.48,480.07 L399.12,479.55 L399.85,479.11 L400.47,478.81 L401.05,478.45 L401.65,477.72 L402.19,477.06 L402.93,476.59 L403.7,475.93 L404.33,475.87 L404.55,475.34 L405.39,474.64 L405.9,474.04 L406.28,473.34 L406.64,472.2 L407.13,471.55 L407.34,470.71 L408,469.62 L408.27,468.97 L408.59,468.1 L409.27,467.46 L409.57,466.55 L410.19,466.04 L410.72,465.14 L411.14,464.88 L411.46,463.58 L411.55,463.1 L412,462 L412.09,461.37 L412.52,460.52 L412.68,460.19 L412.98,458.88 L413.08,458.45 L413.3,457.25 L413.46,456.44 L413.9,455.97 L413.95,454.82 L414.24,453.72 L414.49,453.01 L414.54,452.09 L414.75,451.52 L414.79,450.58 L415.06,450.05 L415.13,449.07 L415.41,448.06 L415.36,447.12 L415.3,446.26 L415.61,445.85 L415.82,444.76 L415.77,443.72 L416.05,443.44 L416.16,442.33 L416.16,441.76 L416.46,440.42 L416.62,439.82 L416.55,439.03 L416.82,437.77 L416.89,437.14 L417.05,436.4 L417.09,435.6 L417.36,434.26 L417.7,433.51 L417.86,432.98 L417.96,431.99 L418.1,431.65 L417.95,430.82 L418.05,430.24 L418.27,428.81 L418.7,427.84 L418.8,427.44 L418.73,426.63 L419.05,426.17 L419.16,425.2 L419.29,424.01 L419.38,423.43 L419.26,422.22 L419.37,421.71 L419.69,421.34 L419.57,420.3 L419.6,419.23 L419.78,418.44 L419.91,417.98 L420.12,416.89 L420.27,416.3 L420.3,414.99 L420.33,414.14 L420.56,413.52 L420.7,412.4 L420.8,411.41 L421.04,411 L420.91,410.02 L421.3,409.3 L421.19,408.21 L421.32,407.26 L421.53,406.76 L421.54,405.56 L421.82,404.7 L421.81,403.82 L422.15,403.14 L422.15,402.61 L422.21,401.73 L422.4,400.58 L422.65,399.99 L422.62,399.29 L422.73,398.14 L423.01,397.42 L423.22,397.16 L423.29,396.11 L423.59,394.86 L423.79,394.17 L423.67,393.23 L424.09,392.11 L424.1,391.24 L424.23,390.58 L424.58,390.1 L424.76,388.83 L424.61,388.36 L424.83,387.86 L424.91,386.97 L425.14,385.85 L425.27,385.14 L425.54,383.92 L425.71,383.45 L425.75,382.72 L426.02,382.15 L426.54,380.81 L426.83,380.03 L427.28,380.83 L427.49,381.59 L427.67,382.69 L428.54,381.79 L428.42,382 L428.68,382.34 L428.96,382.73 L428.86,383.5 L429.16,384.28 L428.97,384.63 L429.17,385.36 L429.58,386.19 L429.5,386.79 L429.62,387.63 L429.83,388.96 L429.87,389.9 L429.96,390.72 L430.09,391.61 L430.37,392.74 L430.56,393.69 L430.49,394.72 L430.91,395.76 L430.93,396.99 L431.02,397.8 L431.11,398.11 L431.02,399.19 L431.09,399.6 L431.19,400.83 L431.19,401.53 L431.51,401.94 L431.49,402.9 L431.5,404.05 L431.51,404.93 L431.58,405.55 L431.89,406.81 L431.85,407.62 L431.9,408.86 L432.22,409.72 L432.27,410.62 L432.25,411.35 L432.15,412.57 L432.42,413.28 L432.45,414.33 L432.61,415.34 L432.71,416.24 L432.81,416.83 L432.56,417.71 L432.8,418.54 L432.93,419.11 L433.04,420.13 L432.95,420.72 L433.1,421.49 L432.9,422.22 L432.98,422.87 L433.01,423.15 L433.03,423.95 L433.3,425.99 L433.52,426.74 L433.61,427.9 L433.52,428 L433.53,428.54 L433.74,428.88 L433.85,429.77 L434.02,430.82 L434.02,431.3 L434.11,432.07 L434.14,432.83 L434.2,433.89 L434.4,434.83 L434.46,435.25 L434.72,436.09 L434.6,437.08 L434.99,437.99 L434.81,438.87 L435.11,439.75 L435.1,440.79 L435.3,441.35 L435.57,442.44 L435.35,443.18 L435.41,444.02 L435.71,444.92 L435.66,445.59 L435.65,446.71 L435.84,447.42 L436,448.54 L435.99,448.92 L436.08,450.08 L436.15,450.73 L436.25,451.91 L436.26,452.6 L436.49,453.07 L436.66,454.01 L436.72,454.86 L436.53,456.02 L436.68,456.45 L437.03,457.33 L436.97,458.16 L437.01,458.68 L437.32,459.29 L437.4,460.1 L437.51,460.96 L437.7,462.17 L437.76,462.99 L438.27,463.78 L438.26,464.59 L438.74,465.08 L438.88,465.97 L438.98,466.41 L439.23,467.32 L439.45,468.4 L439.97,469.28 L439.85,469.99 L440.35,470.92 L440.52,471.51 L440.51,472.74 L440.68,473.24 L440.73,474.31 L441.02,475.36 L441.3,476.05 L441.26,476.67 L441.53,477.6 L441.46,478.78 L441.7,479.02 L442.11,480.04 L442.35,481.23 L442.71,481.86 L442.87,482.81 L443.41,483.59 L443.89,484.72 L444.02,485.58 L444.39,485.97 L444.9,486.7 L445,487.2 Z" fill="#67aa3c" stroke="#111" stroke-width="1.2" stroke-linejoin="round"/>
<path d="M432.01,487.32 L432.08,486.54 L432.14,486.4 L432.41,485.69 L432.6,484.94 L432.99,484.37 L433.07,483.77 L433.34,482.99 L433.58,481.97 L433.78,481.21 L434.1,479.93 L434.08,479.41 L434.34,478.99 L434.43,477.86 L434.52,477.48 L434.55,477.01 L434.98,475.94 L434.99,475.19 L435.22,474.69 L435.41,473.8 L435.53,472.74 L435.5,471.88 L435.89,471.56 L435.81,470.94 L435.93,469.97 L436.27,469.02 L436.19,468.33 L436.43,468.14 L436.63,467.15 L436.87,466.27 L437.14,465.93 L437.14,464.71 L437.42,464.2 L437.69,463.89 L437.58,462.72 L437.95,462.61 L437.97,461.89 L438.3,460.74 L438.36,460.03 L438.59,459.44 L439.01,458.84 L439.3,458.17 L439.43,457.52 L439.81,456.8 L439.99,456.35 L440.5,455.22 L440.89,454.94 L441.05,453.69 L441.3,452.94 L441.57,452.37 L441.83,451.64 L442.25,451.57 L442.32,450.83 L442.73,450.1 L442.89,449.59 L443.04,448.61 L443.19,448.62 L443.32,448.27 L443.41,447.09 L443.53,445.98 L443.63,445.57 L443.81,444.98 L443.72,444.36 L443.87,443.69 L444.25,443.1 L444.15,442.5 L444.39,441.76 L444.46,440.98 L444.73,440.42 L444.91,439.66 L444.89,438.69 L445,438.01 L445.44,437.29 L445.32,436.51 L445.56,435.71 L445.93,434.56 L445.76,433.99 L446.09,433.26 L446.03,432.85 L446.17,432.07 L446.27,430.99 L446.6,430.7 L446.49,430.16 L446.72,429.17 L446.81,428.13 L446.79,427.6 L446.82,426.38 L446.83,425.81 L447.09,425.01 L446.89,424.23 L447.15,423.49 L447.18,423 L447.28,422.19 L447.17,421.35 L447.04,420.96 L447.28,420.53 L447.43,419.82 L447.42,419 L447.78,418.02 L447.82,417.62 L448.23,416.74 L448.55,416.59 L448.82,415.75 L449.12,415.03 L449.52,414.39 L449.99,414.25 L450.54,413.03 L450.55,412.25 L450.82,411.57 L451.02,410.89 L450.92,410.6 L451.32,409.79 L451.4,408.56 L451.44,407.91 L451.84,407.16 L451.81,406.52 L452.14,405.78 L452.23,404.87 L452.77,403.69 L452.95,402.57 L453.27,402.11 L453.85,401.9 L454.13,402.09 L454.22,402.62 L454.02,402.8 L454.15,403.7 L454.23,404.22 L454.55,404.81 L454.65,405.04 L454.7,405.96 L454.7,406.51 L454.64,407.44 L455.01,408.15 L455.07,408.94 L454.92,409.87 L455.12,410.87 L455.06,411.57 L455.08,412.57 L455.43,413.17 L455.36,414.02 L455.31,415.2 L455.52,415.42 L455.64,416.51 L455.63,417.39 L455.75,417.98 L455.89,418.35 L455.69,419.17 L455.96,419.94 L455.92,421.17 L455.79,421.39 L455.9,422.17 L456.2,422.94 L455.95,423.85 L456.07,424.87 L456.01,425.03 L456.26,425.9 L456.27,426.85 L456.37,427.64 L456.34,428.28 L456.28,428.61 L456.31,429.51 L456.46,429.93 L456.61,430.68 L456.5,431.45 L456.57,432.12 L456.65,432.9 L456.85,433.36 L456.83,433.86 L456.96,434.69 L457.09,435.42 L457.07,436.12 L457.12,436.76 L457.23,437.71 L457.6,438.02 L457.36,439.08 L457.47,439.8 L457.56,440.61 L457.85,441.2 L457.67,441.98 L457.86,442.47 L457.92,443.3 L458.03,444.03 L457.9,444.5 L458.09,445.3 L458.1,445.73 L458.09,446.76 L457.97,447.16 L458.07,448.09 L458.05,448.55 L458.36,449.67 L458.22,450.04 L458.38,450.88 L458.29,451.47 L458.63,452.61 L458.53,452.94 L458.55,454.06 L458.5,454.91 L458.66,455.56 L458.88,456.28 L458.98,457.2 L458.85,457.49 L459.19,458.48 L459.11,459.05 L459.17,459.8 L459.43,460.75 L459.27,461.08 L459.54,461.82 L459.73,462.85 L459.73,463.6 L459.94,464.17 L459.8,465.21 L460.03,466.07 L460.07,466.39 L460.33,467.39 L460.29,468.26 L460.62,468.71 L460.69,469.32 L460.63,470.42 L461.02,470.94 L461.07,471.5 L461.23,471.95 L461.06,472.59 L461.44,473.56 L461.36,474.16 L461.76,474.42 L461.89,475.32 L462.23,476.39 L462.18,477.37 L462.63,477.71 L462.9,478.69 L463.17,479.45 L463.3,479.96 L463.66,480.33 L463.95,480.91 L464.16,481.28 L464.53,481.88 L464.54,482.65 L465.11,483.09 L465.48,484.06 L465.97,484.58 L466.53,484.87 L467.32,485.89 L467.76,485.96 L468.16,486.42 L468.7,486.98 L469,487.2 Z" fill="#a6042b" stroke="#111" stroke-width="1.2" stroke-linejoin="round"/>
<path d="M382.85,487.38 L383.44,486.94 L383.86,487.24 L384.6,487.28 L385.01,487.37 L385.76,486.92 L386.65,486.95 L387.57,487.31 L388.14,487.27 L389.12,486.81 L390.07,487.18 L390.87,487.15 L391.75,486.93 L392.44,486.97 L393.12,486.93 L393.98,486.65 L394.38,486.9 L394.87,486.79 L396.24,486.71 L396.97,486.53 L397.8,486.52 L398.37,486.42 L398.87,486.65 L399.57,486.57 L400.05,486.1 L400.83,486.05 L401.48,485.6 L402.02,484.78 L402.41,484.45 L402.92,484.38 L403.6,484.61 L403.89,485.07 L404.68,485.66 L405.48,485.56 L405.96,485.81 L406.83,485.78 L407.24,486.04 L408.21,485.8 L408.91,486.23 L409.65,486.19 L410.66,485.91 L411.4,485.98 L412.12,486.14 L412.76,485.93 L413.53,485.61 L414.36,485.86 L415.15,485.59 L416.08,485.35 L416.54,485.51 L417.4,485.38 L417.98,485.04 L418.89,484.77 L419.69,484.64 L420.52,484.59 L421.03,484.42 L421.76,483.61 L422.07,483.39 L422.67,482.71 L422.78,481.87 L423.29,481.41 L423.65,480.84 L424.13,479.85 L424.62,479.52 L425.06,478.59 L425.37,477.7 L425.84,477.37 L426.39,477.25 L427.02,477.31 L427.31,477.96 L427.8,478.75 L428.38,479.15 L428.99,479.02 L429.63,479.03 L430.55,478.68 L431.19,478.44 L432.16,478.09 L432.72,476.86 L433.1,476.58 L433.36,476.05 L433.38,475.61 L433.63,475.07 L434.09,474.2 L434.09,473.63 L434.47,472.56 L434.84,471.7 L434.78,471.31 L435.16,470.27 L435.29,469.7 L435.62,469.08 L435.95,468.24 L436.1,467.57 L436.59,466.69 L436.74,465.89 L437.17,465.37 L437.47,464.75 L437.91,463.92 L438.29,463.07 L438.81,462.57 L438.92,462.5 L439.45,462.27 L439.77,462.66 L440.5,463.29 L440.81,464.5 L441.26,465.22 L441.71,466.38 L442.17,466.49 L442.93,466.24 L442.88,466.03 L443.27,465.36 L443.29,465.07 L443.48,464.43 L443.61,464.15 L443.88,463.18 L443.9,462.29 L444.04,461.93 L444.34,460.83 L444.45,460.15 L444.47,459.19 L444.82,458.39 L444.83,457.43 L444.95,456.82 L445.16,455.61 L445.35,455.17 L445.45,454.07 L445.81,453.4 L445.89,452.56 L446.14,452.32 L446.35,451.52 L446.39,450.52 L446.81,449.73 L447.11,449.31 L447.5,448.27 L448.04,447.84 L448.22,447.19 L448.53,446.61 L449.02,445.93 L449.26,445.48 L449.52,445.05 L449.8,444.09 L450.24,443.7 L450.25,442.83 L450.46,442.22 L450.9,441.64 L450.88,440.67 L451.2,439.8 L451.22,439.01 L451.32,438.2 L451.52,437.81 L451.57,436.61 L451.81,435.81 L451.85,435.37 L451.97,434.33 L452.26,434.08 L452.16,433.18 L452.24,432.43 L452.37,431.92 L452.76,431.02 L452.81,429.87 L452.93,428.96 L452.99,428.53 L453.35,427.44 L453.43,427.25 L453.46,426.5 L453.62,426.32 L453.86,426.87 L454.12,427.56 L454.36,428.32 L454.58,429.07 L454.94,429.77 L455.43,430.15 L455.63,429.75 L456.27,431.84 L456.1,432.57 L456.32,433.08 L456.48,433.23 L456.45,433.92 L456.37,434.48 L456.56,435.2 L456.51,435.45 L456.66,436.34 L456.76,437.15 L456.56,437.56 L456.63,438.31 L456.72,439.34 L456.8,439.83 L456.86,440.55 L456.81,441.27 L457.14,442.49 L457.02,442.94 L457.05,443.91 L457.05,444.78 L457.34,445.76 L457.21,446.28 L457.49,447.42 L457.29,447.84 L457.5,448.78 L457.57,449.78 L457.69,450.54 L457.52,451.43 L457.58,452.02 L457.88,452.76 L457.74,453.29 L457.79,454.16 L457.92,454.9 L457.91,455.48 L458.05,456.19 L458.09,456.89 L458.39,457.98 L458.43,458.5 L458.62,459.22 L458.72,460.39 L458.69,460.84 L458.83,461.69 L459.07,462.53 L459.15,463.31 L459.17,464.26 L459.31,464.64 L459.55,465.35 L459.39,466.06 L459.7,466.9 L459.62,467.88 L459.92,468.34 L460.16,468.96 L460.09,469.65 L460.4,470.54 L460.32,471.15 L460.49,471.77 L460.63,472.04 L460.85,472.92 L460.93,473.46 L461.16,473.85 L461.13,474.19 L461.57,475.48 L461.77,476.33 L462.03,476.92 L462.21,478.06 L462.72,478.65 L462.83,479.26 L463.04,479.96 L463.53,480.61 L463.79,480.73 L464.12,481.38 L464.28,481.8 L464.59,482.7 L464.91,482.93 L465.52,483.84 L466.18,484.52 L466.69,484.93 L467.19,485.8 L467.71,486.06 L468.31,486.47 L468.82,487.11 L469,487.2 Z" fill="#2d4b7c" stroke="#111" stroke-width="1.2" stroke-linejoin="round"/>
<rect x="381.6" y="373.7" width="114.3" height="113.5" fill="none" stroke="#111" stroke-width="1.3"/>
<text x="41.3" y="517.8" font-size="9.2" text-anchor="start" fill="#222" textLength="25.8" lengthAdjust="spacingAndGlyphs">CXCR4</text>
<line x1="75.3" y1="514.7" x2="391" y2="514.7" stroke="#111" stroke-width="1.45"/>
<path d="M399.3,514.7 L388.2,510.5 L390.8,514.7 L388.2,518.9 Z" fill="#111"/>
<rect x="227.3" y="518.5" width="6.6" height="6.8" fill="#67aa3c"/>
<text x="237.3" y="524.3" font-size="7.5" text-anchor="start" fill="#222">isotype</text>
<rect x="270.6" y="518.5" width="6.6" height="6.8" fill="#2d4b7c"/>
<text x="280.6" y="524.3" font-size="7.5" text-anchor="start" fill="#222">WT</text>
<rect x="301.2" y="518.5" width="6.6" height="6.8" fill="#a6042b"/>
<text x="311.2" y="524.3" font-size="7.5" text-anchor="start" fill="#222">th3/+</text>
<text x="67.7" y="546.4" font-size="11.5" text-anchor="start" font-weight="bold" fill="#111">J</text>
<line x1="104.3" y1="559.1" x2="104.3" y2="683.9" stroke="#111" stroke-width="1.4"/>
<line x1="103.7" y1="683.3" x2="226.5" y2="683.3" stroke="#111" stroke-width="1.4"/>
<line x1="101.7" y1="683.3" x2="104.3" y2="683.3" stroke="#111" stroke-width="1.1"/>
<text x="98.1" y="685.9" font-size="7.8" text-anchor="end" fill="#222">0</text>
<line x1="102.8" y1="667.84" x2="104.3" y2="667.84" stroke="#111" stroke-width="1.1"/>
<line x1="101.7" y1="652.38" x2="104.3" y2="652.38" stroke="#111" stroke-width="1.1"/>
<text x="98.1" y="654.98" font-size="7.8" text-anchor="end" fill="#222">1000</text>
<line x1="102.8" y1="636.91" x2="104.3" y2="636.91" stroke="#111" stroke-width="1.1"/>
<line x1="101.7" y1="621.45" x2="104.3" y2="621.45" stroke="#111" stroke-width="1.1"/>
<text x="98.1" y="624.05" font-size="7.8" text-anchor="end" fill="#222">2000</text>
<line x1="102.8" y1="605.99" x2="104.3" y2="605.99" stroke="#111" stroke-width="1.1"/>
<line x1="101.7" y1="590.52" x2="104.3" y2="590.52" stroke="#111" stroke-width="1.1"/>
<text x="98.1" y="593.12" font-size="7.8" text-anchor="end" fill="#222">3000</text>
<line x1="102.8" y1="575.06" x2="104.3" y2="575.06" stroke="#111" stroke-width="1.1"/>
<line x1="101.7" y1="559.6" x2="104.3" y2="559.6" stroke="#111" stroke-width="1.1"/>
<text x="98.1" y="562.2" font-size="7.8" text-anchor="end" fill="#222">4000</text>
<text x="74.4" y="620.4" font-size="8.6" text-anchor="middle" fill="#222" transform="rotate(-90 74.4 620.4)" textLength="42.8" lengthAdjust="spacingAndGlyphs">CXCR2 MFI</text>
<line x1="135" y1="683.3" x2="135" y2="685.9" stroke="#111" stroke-width="1.1"/>
<line x1="196.6" y1="683.3" x2="196.6" y2="685.9" stroke="#111" stroke-width="1.1"/>
<text x="134.3" y="697" font-size="7.6" text-anchor="middle" fill="#222">WT</text>
<text x="196" y="697" font-size="7.7" text-anchor="middle" fill="#222">th3/+</text>
<rect x="112" y="632.58" width="12" height="50.72" fill="#2d4b7c"/>
<line x1="118" y1="628.56" x2="118" y2="632.58" stroke="#222" stroke-width="1.2"/>
<line x1="115.1" y1="628.56" x2="120.9" y2="628.56" stroke="#222" stroke-width="1.3"/>
<rect x="128.6" y="605.06" width="12" height="78.24" fill="#67aa3c"/>
<line x1="134.6" y1="601.04" x2="134.6" y2="605.06" stroke="#222" stroke-width="1.2"/>
<line x1="131.7" y1="601.04" x2="137.5" y2="601.04" stroke="#222" stroke-width="1.3"/>
<rect x="145.5" y="591.76" width="12" height="91.54" fill="#a6042b"/>
<line x1="151.5" y1="581.25" x2="151.5" y2="591.76" stroke="#222" stroke-width="1.2"/>
<line x1="148.6" y1="581.25" x2="154.4" y2="581.25" stroke="#222" stroke-width="1.3"/>
<rect x="173.4" y="641.86" width="12" height="41.44" fill="#2d4b7c"/>
<line x1="179.4" y1="637.53" x2="179.4" y2="641.86" stroke="#222" stroke-width="1.2"/>
<line x1="176.5" y1="637.53" x2="182.3" y2="637.53" stroke="#222" stroke-width="1.3"/>
<rect x="190" y="649.13" width="12" height="34.17" fill="#67aa3c"/>
<line x1="196" y1="642.94" x2="196" y2="649.13" stroke="#222" stroke-width="1.2"/>
<line x1="193.1" y1="642.94" x2="198.9" y2="642.94" stroke="#222" stroke-width="1.3"/>
<rect x="206.9" y="644.49" width="12" height="38.81" fill="#a6042b"/>
<line x1="212.9" y1="637.99" x2="212.9" y2="644.49" stroke="#222" stroke-width="1.2"/>
<line x1="210" y1="637.99" x2="215.8" y2="637.99" stroke="#222" stroke-width="1.3"/>
<line x1="135.4" y1="573" x2="196.5" y2="573" stroke="#333" stroke-width="1.2"/>
<line x1="135.4" y1="569.6" x2="135.4" y2="576.4" stroke="#333" stroke-width="1.2"/>
<line x1="196.5" y1="569.6" x2="196.5" y2="576.4" stroke="#333" stroke-width="1.2"/>
<line x1="152.8" y1="550.7" x2="215.5" y2="550.7" stroke="#333" stroke-width="1.2"/>
<line x1="152.8" y1="547.3" x2="152.8" y2="554.1" stroke="#333" stroke-width="1.2"/>
<line x1="215.5" y1="547.3" x2="215.5" y2="554.1" stroke="#333" stroke-width="1.2"/>
<text x="150" y="565.3" font-size="7.2" text-anchor="start" fill="#222"><tspan font-style="italic">P</tspan>=0.0141</text>
<text x="167.6" y="543" font-size="7.2" text-anchor="start" fill="#222"><tspan font-style="italic">P</tspan>=0.0005</text>
<rect x="221.9" y="704.9" width="6.7" height="6.5" fill="#2d4b7c"/>
<text x="231.9" y="710.8" font-size="7.5" text-anchor="start" fill="#222">BM</text>
<rect x="252.7" y="704.9" width="6.7" height="6.5" fill="#67aa3c"/>
<text x="262.7" y="710.8" font-size="7.5" text-anchor="start" fill="#222">BL</text>
<rect x="281.2" y="704.9" width="6.7" height="6.5" fill="#a6042b"/>
<text x="291.2" y="710.8" font-size="7.5" text-anchor="start" fill="#222">SP</text>
<text x="259.2" y="546.4" font-size="11.5" text-anchor="start" font-weight="bold" fill="#111">K</text>
<line x1="290.8" y1="576.3" x2="290.8" y2="683.9" stroke="#111" stroke-width="1.4"/>
<line x1="290.2" y1="683.3" x2="419.5" y2="683.3" stroke="#111" stroke-width="1.4"/>
<line x1="288.2" y1="683.3" x2="290.8" y2="683.3" stroke="#111" stroke-width="1.1"/>
<text x="284.8" y="685.9" font-size="7.8" text-anchor="end" fill="#222">0</text>
<line x1="288.2" y1="665.55" x2="290.8" y2="665.55" stroke="#111" stroke-width="1.1"/>
<text x="284.8" y="668.15" font-size="7.8" text-anchor="end" fill="#222">100</text>
<line x1="288.2" y1="647.8" x2="290.8" y2="647.8" stroke="#111" stroke-width="1.1"/>
<text x="284.8" y="650.4" font-size="7.8" text-anchor="end" fill="#222">200</text>
<line x1="288.2" y1="630.05" x2="290.8" y2="630.05" stroke="#111" stroke-width="1.1"/>
<text x="284.8" y="632.65" font-size="7.8" text-anchor="end" fill="#222">300</text>
<line x1="288.2" y1="612.3" x2="290.8" y2="612.3" stroke="#111" stroke-width="1.1"/>
<text x="284.8" y="614.9" font-size="7.8" text-anchor="end" fill="#222">400</text>
<line x1="288.2" y1="594.55" x2="290.8" y2="594.55" stroke="#111" stroke-width="1.1"/>
<text x="284.8" y="597.15" font-size="7.8" text-anchor="end" fill="#222">500</text>
<line x1="288.2" y1="576.8" x2="290.8" y2="576.8" stroke="#111" stroke-width="1.1"/>
<text x="284.8" y="579.4" font-size="7.8" text-anchor="end" fill="#222">600</text>
<text x="265.4" y="628.3" font-size="8.6" text-anchor="middle" fill="#222" transform="rotate(-90 265.4 628.3)" textLength="42.6" lengthAdjust="spacingAndGlyphs">CXCR4 MFI</text>
<line x1="323.2" y1="683.3" x2="323.2" y2="685.9" stroke="#111" stroke-width="1.1"/>
<line x1="386.2" y1="683.3" x2="386.2" y2="685.9" stroke="#111" stroke-width="1.1"/>
<text x="322.7" y="697" font-size="7.6" text-anchor="middle" fill="#222">WT</text>
<text x="385.7" y="697" font-size="7.7" text-anchor="middle" fill="#222">th3/+</text>
<rect x="299.5" y="630.94" width="12" height="52.36" fill="#2d4b7c"/>
<line x1="305.5" y1="621.17" x2="305.5" y2="630.94" stroke="#222" stroke-width="1.2"/>
<line x1="302.6" y1="621.17" x2="308.4" y2="621.17" stroke="#222" stroke-width="1.3"/>
<rect x="317.4" y="647.8" width="12" height="35.5" fill="#67aa3c"/>
<line x1="323.4" y1="641.23" x2="323.4" y2="647.8" stroke="#222" stroke-width="1.2"/>
<line x1="320.5" y1="641.23" x2="326.3" y2="641.23" stroke="#222" stroke-width="1.3"/>
<rect x="335" y="622.95" width="11.7" height="60.35" fill="#a6042b"/>
<line x1="340.85" y1="606.09" x2="340.85" y2="622.95" stroke="#222" stroke-width="1.2"/>
<line x1="337.95" y1="606.09" x2="343.75" y2="606.09" stroke="#222" stroke-width="1.3"/>
<rect x="362.7" y="630.05" width="11.7" height="53.25" fill="#2d4b7c"/>
<line x1="368.55" y1="619.75" x2="368.55" y2="630.05" stroke="#222" stroke-width="1.2"/>
<line x1="365.65" y1="619.75" x2="371.45" y2="619.75" stroke="#222" stroke-width="1.3"/>
<rect x="380" y="650.82" width="11.7" height="32.48" fill="#67aa3c"/>
<line x1="385.85" y1="645.31" x2="385.85" y2="650.82" stroke="#222" stroke-width="1.2"/>
<line x1="382.95" y1="645.31" x2="388.75" y2="645.31" stroke="#222" stroke-width="1.3"/>
<rect x="397.5" y="621.17" width="11.9" height="62.12" fill="#a6042b"/>
<line x1="403.45" y1="607.68" x2="403.45" y2="621.17" stroke="#222" stroke-width="1.2"/>
<line x1="400.55" y1="607.68" x2="406.35" y2="607.68" stroke="#222" stroke-width="1.3"/>
<rect x="0.55" y="0.55" width="518.9" height="718.9" fill="none" stroke="#000" stroke-width="1.15"/></svg>
</body></html>
